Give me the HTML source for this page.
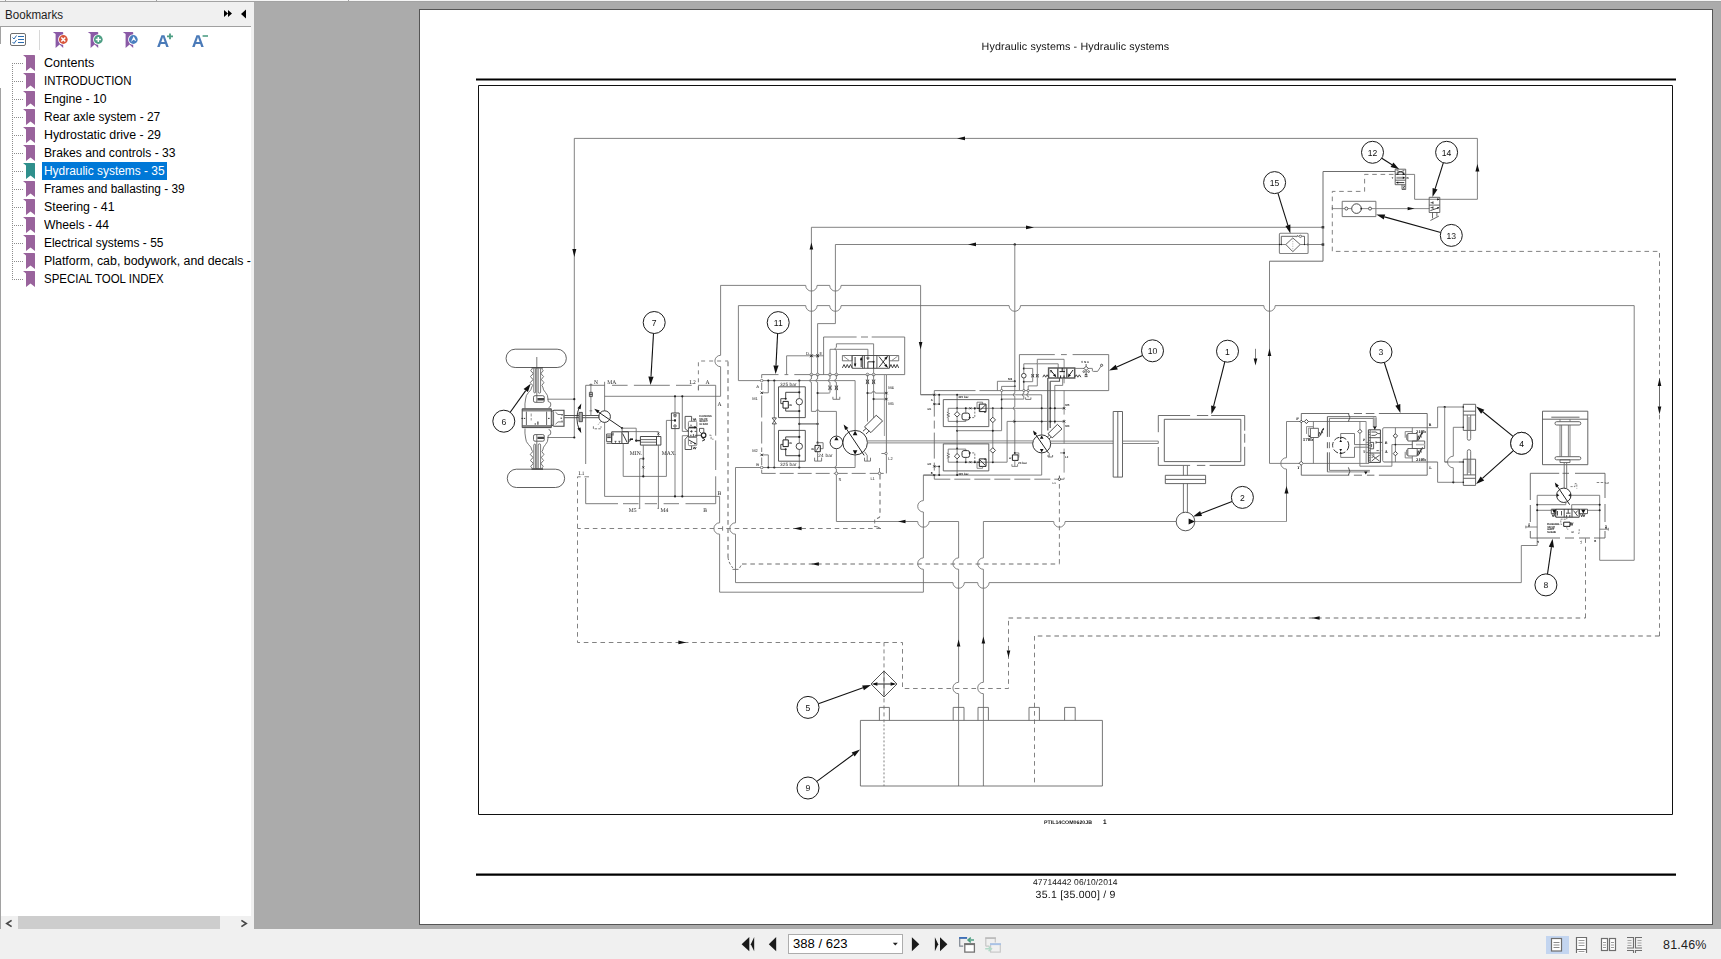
<!DOCTYPE html>
<html><head><meta charset="utf-8"><title>PDF Viewer</title>
<style>
html,body{margin:0;padding:0;}
body{width:1721px;height:959px;overflow:hidden;background:#f0f0f0;position:relative;
 font-family:"Liberation Sans",sans-serif;}
.abs{position:absolute;}
#topline{left:0;top:0;width:1721px;height:1px;background:#f6f6f6;}
#topline2{left:0;top:1px;width:1721px;height:1px;background:#a3a3a3;}
#gray{left:254px;top:2px;width:1467px;height:927px;background:#ababab;}
#lp{left:0;top:27px;width:251px;height:902px;background:#fff;}
#lphead{left:0;top:2px;width:254px;height:24px;background:#f0f0f0;}
#lpline{left:0;top:26px;width:251px;height:1px;background:#a0a0a0;}
#lpstrip{left:251px;top:2px;width:3px;height:927px;background:#f0f0f0;}
#bm{left:5px;top:8px;font-size:12px;color:#1e1e1e;transform:scaleX(0.966);transform-origin:0 0;}
#page{left:419px;top:9px;width:1292px;height:914px;background:#fff;border:1px solid #555;}
#bottom{left:0;top:929px;width:1721px;height:30px;background:#f0f0f0;}
.row{position:absolute;left:44px;height:18px;line-height:18px;font-size:12px;color:#000;white-space:nowrap;transform-origin:0 0;}
#rows{left:0;top:0;width:251px;height:916px;overflow:hidden;}
#sel{left:42px;top:162px;width:125px;height:18px;background:#0078d7;}
#hsb{left:0;top:916px;width:251px;height:13px;background:#f0f0f0;}
#hthumb{left:18px;top:916px;width:202px;height:13px;background:#cdcdcd;}
#pgbox{left:788px;top:934px;width:113px;height:18px;background:#fff;border:1px solid #adadad;}
#pgtxt{left:793px;top:937px;font-size:12.5px;color:#000;transform:scaleX(1.045);transform-origin:0 0;}
#zoomtxt{left:1663px;top:938px;font-size:12.5px;color:#1e1e1e;letter-spacing:0.2px;}
#vsel{left:1546px;top:936px;width:23px;height:18px;background:#c3d5f0;}
svg{position:absolute;left:0;top:0;will-change:transform;}
</style></head>
<body>
<div class="abs" id="topline"></div><div class="abs" id="topline2"></div>
<div class="abs" id="gray"></div>
<div class="abs" id="lphead"></div><div class="abs" id="lpline"></div>
<div class="abs" id="lp"></div><div class="abs" id="lpstrip"></div>
<div class="abs" id="bm">Bookmarks</div>
<div class="abs" id="sel"></div>
<div class="abs" id="rows">
<div class="row" style="top:54px;transform:scaleX(1.047);">Contents</div>
<div class="row" style="top:72px;transform:scaleX(0.951);">INTRODUCTION</div>
<div class="row" style="top:90px;transform:scaleX(1.018);">Engine - 10</div>
<div class="row" style="top:108px;transform:scaleX(0.996);">Rear axle system - 27</div>
<div class="row" style="top:126px;transform:scaleX(1.031);">Hydrostatic drive - 29</div>
<div class="row" style="top:144px;transform:scaleX(1.012);">Brakes and controls - 33</div>
<div class="row" style="top:162px;transform:scaleX(0.994);color:#fff;">Hydraulic systems - 35</div>
<div class="row" style="top:180px;transform:scaleX(0.99);">Frames and ballasting - 39</div>
<div class="row" style="top:198px;transform:scaleX(1.027);">Steering - 41</div>
<div class="row" style="top:216px;transform:scaleX(1.015);">Wheels - 44</div>
<div class="row" style="top:234px;transform:scaleX(0.995);">Electrical systems - 55</div>
<div class="row" style="top:252px;transform:scaleX(1.031);">Platform, cab, bodywork, and decals -</div>
<div class="row" style="top:270px;transform:scaleX(0.955);">SPECIAL TOOL INDEX</div>
</div>
<div class="abs" id="hsb"></div><div class="abs" id="hthumb"></div>
<div class="abs" id="page"></div>
<div class="abs" id="bottom"></div>
<div class="abs" id="pgbox"></div><div class="abs" id="pgtxt">388 / 623</div>
<div class="abs" id="vsel"></div>
<div class="abs" id="zoomtxt">81.46%</div>
<svg width="1721" height="959" viewBox="0 0 1721 959" text-rendering="geometricPrecision">
<rect x="0" y="26" width="1" height="18" fill="#a2a2a2"/>
<rect x="0" y="88" width="1" height="841" fill="#a2a2a2"/>
<rect x="5" y="0" width="1" height="1" fill="#a0a0a0"/>
<rect x="156" y="0" width="1" height="1" fill="#a0a0a0"/>
<rect x="348" y="0" width="1" height="1" fill="#a0a0a0"/>
<path d="M224 10 L228 13.5 L224 17 Z M228 10 L232 13.5 L228 17 Z" fill="#000"/>
<path d="M246 9.5 L246 18.5 L241 14 Z" fill="#000"/>
<rect x="10.5" y="33.5" width="15" height="12" rx="1.5" fill="#fff" stroke="#6e6e6e" stroke-width="1"/>
<path d="M12.5 37.5 L14 39 L16.5 35.5 M12.5 42 L14 43.5 L16.5 40" fill="none" stroke="#2b6cb0" stroke-width="1"/>
<path d="M18 36.5 H24 M18 39.5 H24 M18 42.5 H24" stroke="#2b6cb0" stroke-width="1"/>
<rect x="39" y="30" width="1" height="20" fill="#d8d8d8"/>
<path d="M52.8 32 H62.6 L63.2 32.6 V48 L59.6 44.6 L55.6 48 V34 Z" fill="#8a5aa6"/>
<circle cx="63.3" cy="39.5" r="5.2" fill="#fff"/>
<circle cx="63.3" cy="39.5" r="4.4" fill="#d9553a"/>
<path d="M61.3 37.5 L65.3 41.5 M65.3 37.5 L61.3 41.5" stroke="#fff" stroke-width="1.5"/>
<path d="M87.8 32 H97.6 L98.2 32.6 V48 L94.6 44.6 L90.6 48 V34 Z" fill="#8a5aa6"/>
<circle cx="98.3" cy="39.5" r="5.2" fill="#fff"/>
<circle cx="98.3" cy="39.5" r="4.4" fill="#4e9e84"/>
<path d="M95.7 39.5 H100.89999999999999 M98.3 36.9 V42.1" stroke="#fff" stroke-width="1.5"/>
<path d="M122.8 32 H132.6 L133.2 32.6 V48 L129.6 44.6 L125.6 48 V34 Z" fill="#8a5aa6"/>
<circle cx="133.3" cy="39.5" r="5.2" fill="#fff"/>
<circle cx="133.3" cy="39.5" r="4.4" fill="#4a7fc0"/>
<path d="M130.9 42.1 L133.70000000000002 36.3 L136.3 41.3 L133.5 39.7 Z" fill="#fff"/>
<text x="156.8" y="46.9" font-family="Liberation Sans" font-weight="bold" font-size="17.2" fill="#4a7ab8">A</text>
<path d="M167 36.4 H173 M170 33.6 V39.2" stroke="#4e9e84" stroke-width="1.8"/>
<text x="191.8" y="46.9" font-family="Liberation Sans" font-weight="bold" font-size="17.2" fill="#4a7ab8">A</text>
<path d="M202.600 36 H208" stroke="#4e9e84" stroke-width="1.6"/>
<path d="M12.5 63 V279" stroke="#8c8c8c" stroke-width="1" stroke-dasharray="1 1"/>
<path d="M12 63.5 H23" stroke="#8c8c8c" stroke-width="1" stroke-dasharray="1 1"/>
<path d="M23 55 H34.4 L35 55.6 V71 L30.5 67.4 L26 71 V57.4 Z" fill="#99639c"/>
<path d="M12 81.5 H23" stroke="#8c8c8c" stroke-width="1" stroke-dasharray="1 1"/>
<path d="M23 73 H34.4 L35 73.6 V89 L30.5 85.4 L26 89 V75.4 Z" fill="#99639c"/>
<path d="M12 99.5 H23" stroke="#8c8c8c" stroke-width="1" stroke-dasharray="1 1"/>
<path d="M23 91 H34.4 L35 91.6 V107 L30.5 103.4 L26 107 V93.4 Z" fill="#99639c"/>
<path d="M12 117.5 H23" stroke="#8c8c8c" stroke-width="1" stroke-dasharray="1 1"/>
<path d="M23 109 H34.4 L35 109.6 V125 L30.5 121.4 L26 125 V111.4 Z" fill="#99639c"/>
<path d="M12 135.5 H23" stroke="#8c8c8c" stroke-width="1" stroke-dasharray="1 1"/>
<path d="M23 127 H34.4 L35 127.6 V143 L30.5 139.4 L26 143 V129.4 Z" fill="#99639c"/>
<path d="M12 153.5 H23" stroke="#8c8c8c" stroke-width="1" stroke-dasharray="1 1"/>
<path d="M23 145 H34.4 L35 145.6 V161 L30.5 157.4 L26 161 V147.4 Z" fill="#99639c"/>
<path d="M12 171.5 H23" stroke="#8c8c8c" stroke-width="1" stroke-dasharray="1 1"/>
<path d="M23 163 H34.4 L35 163.6 V179 L30.5 175.4 L26 179 V165.4 Z" fill="#2f8f8c"/>
<path d="M12 189.5 H23" stroke="#8c8c8c" stroke-width="1" stroke-dasharray="1 1"/>
<path d="M23 181 H34.4 L35 181.6 V197 L30.5 193.4 L26 197 V183.4 Z" fill="#99639c"/>
<path d="M12 207.5 H23" stroke="#8c8c8c" stroke-width="1" stroke-dasharray="1 1"/>
<path d="M23 199 H34.4 L35 199.6 V215 L30.5 211.4 L26 215 V201.4 Z" fill="#99639c"/>
<path d="M12 225.5 H23" stroke="#8c8c8c" stroke-width="1" stroke-dasharray="1 1"/>
<path d="M23 217 H34.4 L35 217.6 V233 L30.5 229.4 L26 233 V219.4 Z" fill="#99639c"/>
<path d="M12 243.5 H23" stroke="#8c8c8c" stroke-width="1" stroke-dasharray="1 1"/>
<path d="M23 235 H34.4 L35 235.6 V251 L30.5 247.4 L26 251 V237.4 Z" fill="#99639c"/>
<path d="M12 261.5 H23" stroke="#8c8c8c" stroke-width="1" stroke-dasharray="1 1"/>
<path d="M23 253 H34.4 L35 253.6 V269 L30.5 265.4 L26 269 V255.4 Z" fill="#99639c"/>
<path d="M12 279.5 H23" stroke="#8c8c8c" stroke-width="1" stroke-dasharray="1 1"/>
<path d="M23 271 H34.4 L35 271.6 V287 L30.5 283.4 L26 287 V273.4 Z" fill="#99639c"/>
<path d="M11.6 920.4 L6.8 923.5 L11.6 926.6" fill="none" stroke="#484848" stroke-width="1.7"/>
<path d="M241.4 920.4 L246.2 923.5 L241.4 926.6" fill="none" stroke="#484848" stroke-width="1.7"/>
<path d="M749.3 937 V951.3 L741.6 944.15 Z" fill="#1a1a1a"/>
<path d="M754.2 937 V951.3 L750.8 944.15 Z" fill="#1a1a1a"/>
<path d="M776.2 937 V951.3 L768.8 944.15 Z" fill="#1a1a1a"/>
<path d="M892.8 942.8 L897.8 942.8 L895.300 945.6 Z" fill="#222"/>
<path d="M911.9 937.3 V951.2 L919.3 944.25 Z" fill="#1a1a1a"/>
<path d="M934.9 937.3 V951.2 L938.2 944.25 Z" fill="#1a1a1a"/>
<path d="M940 937.3 V951.2 L947.4 944.25 Z" fill="#1a1a1a"/>
<path d="M959.7 946.7 V938 H967 M959.7 946.2 H963.2" fill="none" stroke="#808892" stroke-width="1.2"/><rect x="959.1" y="937" width="8" height="1.8" fill="#3f70b8"/>
<rect x="964.8" y="944" width="9.600" height="8.100" fill="#fff" stroke="#747474" stroke-width="1.3"/><rect x="964.2" y="943.2" width="10.8" height="1.900" fill="#747474"/>
<path d="M974 940 H968.2 M970.8 937.6 L968 940 L970.8 942.4" fill="none" stroke="#4f9f82" stroke-width="1.5"/>
<path d="M985.8 946.2 V938.2 H995.3 V942.6 M985.8 946.2 H989.400" fill="none" stroke="#c6c6c6" stroke-width="1.2"/><rect x="985.2" y="937.3" width="10.7" height="1.700" fill="#bdbdbd"/>
<rect x="990.6" y="944" width="9.700" height="8.100" fill="#f0f0f0" stroke="#c8c8c8" stroke-width="1.2"/><rect x="990" y="943.2" width="10.9" height="1.900" fill="#a9c2e6"/>
<path d="M985.2 948.8 H991.200 M988.6 946.5 L991.400 948.8 L988.6 951.100" fill="none" stroke="#b3d9c8" stroke-width="1.5"/>
<rect x="1551.5" y="938.5" width="10" height="12.5" fill="#fff" stroke="#6e6e6e" stroke-width="1.2"/>
<path d="M1553.5 942.5 H1559.5 M1553.5 945 H1559.5 M1553.5 947.5 H1559.5" stroke="#8a8a8a" stroke-width="1"/>
<path d="M1576.5 949 V937.5 H1586.500 V949" fill="#fff" stroke="#6e6e6e" stroke-width="1.2"/><path d="M1576.5 953 V949.5 H1586.5 V953" fill="#fff" stroke="#6e6e6e" stroke-width="1.2"/>
<path d="M1578.5 940.5 H1584.5 M1578.5 943 H1584.5 M1578.5 945.5 H1584.5 M1578.5 951.5 H1584.5" stroke="#9a9a9a" stroke-width="1"/>
<rect x="1601.500" y="938.5" width="6" height="12" fill="#fff" stroke="#6e6e6e" stroke-width="1.2"/><rect x="1609.500" y="938.5" width="6" height="12" fill="#fff" stroke="#6e6e6e" stroke-width="1.2"/>
<path d="M1603 942.5 H1606 M1603 945 H1606 M1603 947.5 H1606 M1611 942.5 H1614 M1611 945 H1614 M1611 947.5 H1614" stroke="#9a9a9a" stroke-width="1"/>
<path d="M1627 937.5 H1633.5 V948 H1627 M1642 937.5 H1635.5 V948 H1642 M1627 950.5 H1633.5 V953 M1642 950.5 H1635.5 V953" fill="none" stroke="#6e6e6e" stroke-width="1.1"/>
<path d="M1627.5 940.5 H1631.5 M1627.5 943 H1631.5 M1627.5 945.5 H1631.5 M1637.5 940.5 H1641.5 M1637.5 943 H1641.5 M1637.5 945.5 H1641.5" stroke="#a5a5a5" stroke-width="1"/>
<text x="981.6" y="49.6" font-family="Liberation Sans" font-size="10.7" text-anchor="start" fill="#111" font-weight="normal" textLength="187.6" lengthAdjust="spacing">Hydraulic systems - Hydraulic systems</text>
<path d="M476 79.5 H1676" fill="none" stroke="#000" stroke-width="2"/>
<path d="M476 874.6 H1676" fill="none" stroke="#000" stroke-width="2.4"/>
<path d="M478.5 85.5 h1194 v729 h-1194 Z" fill="none" stroke="#111" stroke-width="1"/>
<text x="1033" y="884.9" font-family="Liberation Sans" font-size="8.45" text-anchor="start" fill="#111" font-weight="normal" textLength="84.5" lengthAdjust="spacing">47714442 06/10/2014</text>
<text x="1035.6" y="897.8" font-family="Liberation Sans" font-size="10.5" text-anchor="start" fill="#111" font-weight="normal" textLength="79.8" lengthAdjust="spacing">35.1 [35.000] / 9</text>
<text x="1044" y="823.8" font-family="Liberation Sans" font-size="5.1" text-anchor="start" fill="#111" font-weight="bold" textLength="48" lengthAdjust="spacingAndGlyphs">PTIL14COM0620JB</text>
<text x="1103" y="823.8" font-family="Liberation Sans" font-size="6.4" text-anchor="start" fill="#111" font-weight="bold">1</text>
<path d="M1439.8 199.3 H1477.4 V138.4 H574.3 V437.5" fill="none" stroke="#6c6c6c" stroke-width="0.85"/>
<path d="M574.3 257 L572.3 249 L576.3 249 Z" fill="#111"/>
<path d="M957 138.4 L965 136.6 L965 140.20000000000002 Z" fill="#111"/>
<path d="M1477.4 163.9 L1475.4 171.4 L1479.4 171.4 Z" fill="#111"/>
<path d="M547.3 399.2 H574.3 M547.3 437.5 H574.3" fill="none" stroke="#6c6c6c" stroke-width="0.85"/>
<circle cx="574.3" cy="399.2" r="1.1" fill="#222"/>
<circle cx="574.3" cy="437.5" r="1.1" fill="#222"/>
<path d="M811.4 374 V227.3 H1323" fill="none" stroke="#6c6c6c" stroke-width="0.85"/>
<path d="M811.4 242.4 L809.6 249.4 L813.1999999999999 249.4 Z" fill="#111"/>
<path d="M1034 227.4 L1026 225.6 L1026 229.20000000000002 Z" fill="#111"/>
<path d="M817.6 374 V323.6 H835.4 V244.5 H1279.4" fill="none" stroke="#6c6c6c" stroke-width="0.85"/>
<path d="M968 244.4 L976 242.6 L976 246.20000000000002 Z" fill="#111"/>
<circle cx="1014.8" cy="244.4" r="1.2" fill="#222"/>
<path d="M1308 244.5 H1323" fill="none" stroke="#6c6c6c" stroke-width="0.85"/>
<rect x="1321.7" y="226" width="2.5" height="2.5" fill="#111"/><rect x="1321.7" y="243.3" width="2.5" height="2.5" fill="#111"/>
<circle cx="1307.8" cy="244.5" r="0.9" fill="#222"/>
<path d="M1014.8 244.4 V381.3" fill="none" stroke="#6c6c6c" stroke-width="0.85"/>
<path d="M1395 171.5 H1323 V261.2 H1269.5" fill="none" stroke="#6c6c6c" stroke-width="1"/>
<path d="M1269.5 261.2 V463.4" fill="none" stroke="#6c6c6c" stroke-width="0.85"/>
<path d="M1269.5 348.5 L1267.7 356.0 L1271.3 356.0 Z" fill="#111"/>
<path d="M1269.5 463.4 H1301.2" fill="none" stroke="#6c6c6c" stroke-width="0.85"/>
<path d="M1255.5 348.8 V360" fill="none" stroke="#6c6c6c" stroke-width="0.85"/>
<path d="M1255.5 365.5 L1253.7 358.5 L1257.3 358.5 Z" fill="#111"/>
<path d="M720.5 285.4 H805.6999999999999 A5.7 5.7 0 0 0 817.1 285.4 H829.6999999999999 A5.7 5.7 0 0 0 841.1 285.4 H920.6" fill="none" stroke="#6c6c6c" stroke-width="0.85"/>
<path d="M920.6 285.4 V394.6 H934.3" fill="none" stroke="#6c6c6c" stroke-width="0.85"/>
<path d="M920.6 349.6 L918.8000000000001 342.1 L922.4 342.1 Z" fill="#111"/>
<path d="M720.6 285.4 V355.3 A5.7 5.7 0 0 0 720.6 366.7 V396.3" fill="none" stroke="#6c6c6c" stroke-width="0.85"/>
<path d="M720.6 396.3 H604.6" fill="none" stroke="#6c6c6c" stroke-width="0.85"/>
<path d="M738.4 305.6 H805.6999999999999 A5.7 5.7 0 0 0 817.1 305.6 H829.6999999999999 A5.7 5.7 0 0 0 841.1 305.6 H1009.0999999999999 A5.7 5.7 0 0 0 1020.5 305.6 H1263.8 A5.7 5.7 0 0 0 1275.2 305.6 H1634.2" fill="none" stroke="#6c6c6c" stroke-width="0.85"/>
<path d="M738.4 305.6 V380.6 H760.4" fill="none" stroke="#6c6c6c" stroke-width="0.85"/>
<path d="M1634.2 305.6 V560.3 H1599.7 V538" fill="none" stroke="#6c6c6c" stroke-width="0.85"/>
<path d="M604.6 496.4 H719.6" fill="none" stroke="#6c6c6c" stroke-width="0.85"/>
<path d="M719.6 496.4 V522.8 A5.7 5.7 0 0 0 719.6 534.2 V592.2" fill="none" stroke="#6c6c6c" stroke-width="0.85"/>
<path d="M719.6 592.2 H923.4" fill="none" stroke="#6c6c6c" stroke-width="0.85"/>
<path d="M923.4 592.2 V569.3000000000001 A5.7 5.7 0 0 1 923.4 557.9 V512.0 A5.7 5.7 0 0 1 923.4 500.6 V475.1" fill="none" stroke="#6c6c6c" stroke-width="0.85"/>
<path d="M923.4 475.1 H934.3" fill="none" stroke="#6c6c6c" stroke-width="0.85"/>
<path d="M761.7 467.5 H735.5" fill="none" stroke="#6c6c6c" stroke-width="0.85"/>
<path d="M735.5 467.5 V522.8 A5.7 5.7 0 0 0 735.5 534.2 V582.6" fill="none" stroke="#6c6c6c" stroke-width="0.85"/>
<path d="M735.5 582.6 H952.9 A5.7 5.7 0 0 0 964.3000000000001 582.6 H977.6999999999999 A5.7 5.7 0 0 0 989.1 582.6 H1521.3" fill="none" stroke="#6c6c6c" stroke-width="0.85"/>
<path d="M1521.3 582.6 V545.5 H1537.2 V538" fill="none" stroke="#6c6c6c" stroke-width="0.85"/>
<path d="M836.4 474.8 V521.5" fill="none" stroke="#6c6c6c" stroke-width="0.85"/>
<path d="M836.4 521.5 H917.6999999999999 A5.7 5.7 0 0 0 929.1 521.5 H958.6" fill="none" stroke="#6c6c6c" stroke-width="0.85"/>
<path d="M958.6 521.5 V557.9 A5.7 5.7 0 0 0 958.6 569.3000000000001 V682.3 A5.7 5.7 0 0 0 958.6 693.7 V786" fill="none" stroke="#6c6c6c" stroke-width="0.85"/>
<path d="M898 521.5 L905.5 519.7 L905.5 523.3 Z" fill="#111"/>
<path d="M874.7 519.5 V523.5" fill="none" stroke="#6c6c6c" stroke-width="0.85"/>
<path d="M958.6 639.6 L956.8000000000001 646.6 L960.4 646.6 Z" fill="#111"/>
<path d="M1176.2 521.5 H1065.1000000000001 A5.7 5.7 0 0 1 1053.7 521.5 H983.4" fill="none" stroke="#6c6c6c" stroke-width="0.85"/>
<path d="M983.4 521.5 V557.9 A5.7 5.7 0 0 0 983.4 569.3000000000001 V682.3 A5.7 5.7 0 0 0 983.4 693.7 V786" fill="none" stroke="#6c6c6c" stroke-width="0.85"/>
<path d="M983.4 636.5 L981.6 643.5 L985.1999999999999 643.5 Z" fill="#111"/>
<path d="M1194.8 521.5 H1286.5" fill="none" stroke="#8a8a8a" stroke-width="0.85"/>
<path d="M1286.5 521.5 V469.09999999999997 A5.7 5.7 0 0 1 1286.5 457.7 V421.5" fill="none" stroke="#6c6c6c" stroke-width="0.85"/>
<path d="M1286.5 421.5 H1301.2" fill="none" stroke="#6c6c6c" stroke-width="0.85"/>
<path d="M1286.5 486 L1284.5 493.5 L1288.5 493.5 Z" fill="#111"/>
<path d="M589 476.8 H577.5 V642.5 H902.5 V688.5 H1008.5 V618" fill="none" stroke="#6c6c6c" stroke-width="0.85" stroke-dasharray="4.6 3.74"/>
<path d="M1008.5 618 H1585.5" fill="none" stroke="#6c6c6c" stroke-width="1.05" stroke-dasharray="4.6 3.74"/>
<path d="M1585.5 618 V535" fill="none" stroke="#6c6c6c" stroke-width="0.85" stroke-dasharray="4.6 3.74"/>
<path d="M686.4 642.4 L678.4 640.6 L678.4 644.1999999999999 Z" fill="#111"/>
<path d="M1008.5 657.5 L1006.7 650.5 L1010.3 650.5 Z" fill="#111"/>
<path d="M1311.6 618 L1319.6 616.2 L1319.6 619.8 Z" fill="#111"/>
<path d="M884 642.4 V720" fill="none" stroke="#6c6c6c" stroke-width="0.85" stroke-dasharray="4 3"/>
<path d="M884 720.4 V786" fill="none" stroke="#6c6c6c" stroke-width="0.85" stroke-dasharray="2 2"/>
<path d="M880 474.8 V516 Q880 517.5 877 518.5" fill="none" stroke="#6c6c6c" stroke-width="1.05" stroke-dasharray="4.6 3.74"/>
<path d="M881 528.5 H577.5" fill="none" stroke="#6c6c6c" stroke-width="0.85" stroke-dasharray="4.6 3.74"/>
<path d="M874 526.3 q4 0.2 6.5 2.2" fill="none" stroke="#6c6c6c" stroke-width="0.9"/>
<path d="M722.6 526.3 V530.7" fill="none" stroke="#6c6c6c" stroke-width="0.9"/>
<path d="M793.6 528.5 L801.6 526.7 L801.6 530.3 Z" fill="#111"/>
<path d="M698.4 390.3 V361 H728.1" fill="none" stroke="#6c6c6c" stroke-width="0.85" stroke-dasharray="4 4"/>
<path d="M728 361.6 V557" fill="none" stroke="#6c6c6c" stroke-width="1.05" stroke-dasharray="4.6 3.74"/>
<path d="M728 557 Q728.5 563 733 568" fill="none" stroke="#6c6c6c" stroke-width="1" stroke-dasharray="3 2"/>
<path d="M732.5 569.4 H738.5" fill="none" stroke="#6c6c6c" stroke-width="0.9"/>
<path d="M739.5 568 L742 564" fill="none" stroke="#6c6c6c" stroke-width="0.85" stroke-dasharray="3 2"/>
<path d="M742 564 H1059.4" fill="none" stroke="#6c6c6c" stroke-width="1.05" stroke-dasharray="4.6 3.74"/>
<path d="M1059.4 563.7 V480.6" fill="none" stroke="#6c6c6c" stroke-width="0.85" stroke-dasharray="4.6 3.74"/>
<path d="M810.9 564 L818.9 562.2 L818.9 565.8 Z" fill="#111"/>
<path d="M1393.5 174.4 H1364.6 V191.4 H1332.3 V251.4 H1659.5 V386" fill="none" stroke="#6c6c6c" stroke-width="0.85" stroke-dasharray="4.6 3.74"/>
<path d="M1659.5 386 V406.4" fill="none" stroke="#6c6c6c" stroke-width="1"/>
<path d="M1659.5 406.4 V636" fill="none" stroke="#6c6c6c" stroke-width="0.85" stroke-dasharray="4.6 3.74"/>
<path d="M1659.5 636 H1034.5" fill="none" stroke="#6c6c6c" stroke-width="1.05" stroke-dasharray="4.6 3.74"/>
<path d="M1034.5 636 V786" fill="none" stroke="#6c6c6c" stroke-width="0.85" stroke-dasharray="4.6 3.74"/>
<path d="M1659.5 378 L1657.7 386 L1661.3 386 Z" fill="#111"/>
<path d="M1659.5 414.4 L1657.7 406.4 L1661.3 406.4 Z" fill="#111"/>
<path d="M515.2 349.2 H557.2 A9.15 9.15 0 0 1 557.2 367.5 H515.2 A9.15 9.15 0 0 1 515.2 349.2 Z" fill="none" stroke="#444" stroke-width="0.85"/>
<path d="M516.4 469.2 H555.5 A9.15 9.15 0 0 1 555.5 487.5 H516.4 A9.15 9.15 0 0 1 516.4 469.2 Z" fill="none" stroke="#444" stroke-width="0.85"/>
<path d="M536.8 357 V396 M536.8 441 V469" fill="none" stroke="#555" stroke-width="0.8"/>
<path d="M533.8 368.5 V392.0 A0.9 0.9 0 0 0 535.6 392.0 V368.5" fill="none" stroke="#555" stroke-width="0.8"/>
<path d="M538.2 368.5 V392.0 A1.2 1.2 0 0 0 540.6 392.0 V368.5" fill="none" stroke="#555" stroke-width="0.8"/>
<path d="M533.8 468.5 V445.0 A0.9 0.9 0 0 1 535.6 445.0 V468.5" fill="none" stroke="#555" stroke-width="0.8"/>
<path d="M538.2 468.5 V445.0 A1.2 1.2 0 0 1 540.6 445.0 V468.5" fill="none" stroke="#555" stroke-width="0.8"/>
<path d="M531.5 367.9 H543 M531.5 469 H543" fill="none" stroke="#444" stroke-width="1.3"/>
<path d="M532.4 369 q-3.2 1.5 -0.3 3 q1.8 1.5 0.1 3 q-3.2 1.5 -0.3 3 q1.8 1.5 0.1 3 q-3.2 1.5 -0.3 3 q1.8 1.5 0.1 3" fill="none" stroke="#555" stroke-width="0.8"/>
<path d="M541.6 369 q3.2 1.5 0.4 3 q-1.8 1.5 0 3 q3.2 1.5 0.4 3 q-1.8 1.5 0 3 q3.2 1.5 0.4 3 q-1.8 1.5 0 3" fill="none" stroke="#555" stroke-width="0.8"/>
<path d="M531.8 387 Q531.5 390 528.5 392.5 Q525.8 395 525.6 399 Q524.6 404 525 408.5" fill="none" stroke="#555" stroke-width="0.8"/>
<path d="M542.8 387 Q543 390 545.5 392.5 Q548 395 548 399 L548.2 401.5 Q551.5 402 550.8 405 Q550.5 407.5 548.6 407.5" fill="none" stroke="#555" stroke-width="0.8"/>
<path d="M532.4 468 q-3.2 -1.5 -0.3 -3 q1.8 -1.5 0.1 -3 q-3.2 -1.5 -0.3 -3 q1.8 -1.5 0.1 -3 q-3.2 -1.5 -0.3 -3 q1.8 -1.5 0.1 -3" fill="none" stroke="#555" stroke-width="0.8"/>
<path d="M541.6 468 q3.2 -1.5 0.4 -3 q-1.8 -1.5 0 -3 q3.2 -1.5 0.4 -3 q-1.8 -1.5 0 -3 q3.2 -1.5 0.4 -3 q-1.8 -1.5 0 -3" fill="none" stroke="#555" stroke-width="0.8"/>
<path d="M531.8 450 Q531.5 447 528.5 444.5 Q525.8 442 525.6 438 Q524.6 433 525 428.5" fill="none" stroke="#555" stroke-width="0.8"/>
<path d="M542.8 450 Q543 447 545.5 444.5 Q548 442 548 438 L548.2 435.5 Q551.5 435 550.8 432 Q550.5 429.5 548.6 429.5" fill="none" stroke="#555" stroke-width="0.8"/>
<rect x="533.5" y="395.7" width="10.8" height="6.6" rx="1.5" fill="#fff" stroke="#555" stroke-width="0.9"/>
<rect x="533.5" y="434.6" width="10.8" height="6.6" rx="1.5" fill="#fff" stroke="#555" stroke-width="0.9"/>
<path d="M537.400 399.2 H544 M537.4 437.9 H544" fill="none" stroke="#444" stroke-width="2.4"/>
<path d="M536.800 395.7 V402.3 M536.800 434.6 V441.2" fill="none" stroke="#555" stroke-width="0.8"/>
<path d="M522.2 410.2 H551.3 M522.2 426.3 H551.3" fill="none" stroke="#8a8a8a" stroke-width="2.8"/>
<path d="M522.2 408.8 h29.1 v18.8 h-29.1 Z" fill="none" stroke="#4a4a4a" stroke-width="1"/>
<path d="M526.4 411.6 V425 M546.6 411.6 V425" fill="none" stroke="#555" stroke-width="0.9"/>
<path d="M531.2 413.5 V420.5" fill="none" stroke="#666" stroke-width="0.7" stroke-dasharray="3 1.5"/>
<path d="M534.600 424 h1.4 M537.9 421.6 v3.2" fill="none" stroke="#333" stroke-width="1.1"/>
<path d="M521.4 418.4 h1.6 M523.800 418.4 h1.4 M548 418.4 h1.6" fill="none" stroke="#333" stroke-width="1"/>
<path d="M551.3 411.6 L554.1 410.2 H564 V426.2 H554.1 L551.3 424.8" fill="none" stroke="#444" stroke-width="1.1"/>
<path d="M553.300 411.3 V425.2" fill="none" stroke="#777" stroke-width="1.6"/>
<path d="M555.5 412.2 L558 414.5 H563 M555.5 424.2 L558 421.9 H563 M562 414.5 V416 M562 420.400 V421.9" fill="none" stroke="#555" stroke-width="0.8"/>
<path d="M560.5 418.2 h1.6" fill="none" stroke="#333" stroke-width="1"/>
<path d="M564.3 415.5 H598.9 M564.3 417.7 H598.9" fill="none" stroke="#444" stroke-width="0.9"/>
<path d="M579 412.4 h3.4 v9.3 h-3.4 Z" fill="#aaa" stroke="#444" stroke-width="0.9"/>
<path d="M579.6 406.5 Q574.2 418.5 579.6 430.3" fill="none" stroke="#222" stroke-width="0.9"/>
<path d="M581.3 403.6 L577.4 408.2 L580.6 409.2 Z" fill="#111"/>
<path d="M581.3 433.2 L577.4 428.6 L580.6 427.6 Z" fill="#111"/>
<path d="M585.7 385.3 H605 M612 385.3 H627.6 M633.9 385.3 H669.8 M676 385.3 H691.7 M698 385.3 H715.7" fill="none" stroke="#666" stroke-width="0.85"/>
<path d="M585.7 503.7 H618 M623 503.7 H638.6 M644.8 503.7 H657 M663.6 503.7 H679 M685.5 503.7 H715.7" fill="none" stroke="#666" stroke-width="0.85"/>
<path d="M585.7 385.3 V464 M585.7 478 V503.7" fill="none" stroke="#666" stroke-width="0.85"/>
<path d="M715.7 385.3 V435.7 M715.7 440.4 V470 M715.7 476.3 V503.7" fill="none" stroke="#666" stroke-width="0.85"/>
<text x="594" y="383.6" font-family="Liberation Serif" font-size="5.6" text-anchor="start" fill="#222" font-weight="normal">N</text>
<text x="607.3" y="383.6" font-family="Liberation Serif" font-size="5.6" text-anchor="start" fill="#222" font-weight="normal">MA</text>
<text x="689.5" y="383.6" font-family="Liberation Serif" font-size="5.6" text-anchor="start" fill="#222" font-weight="normal">L2</text>
<text x="705.4" y="383.6" font-family="Liberation Serif" font-size="5.6" text-anchor="start" fill="#222" font-weight="normal">A</text>
<text x="717.6" y="405.6" font-family="Liberation Serif" font-size="5.6" text-anchor="start" fill="#222" font-weight="normal">A</text>
<text x="717.6" y="494.6" font-family="Liberation Serif" font-size="5.6" text-anchor="start" fill="#222" font-weight="normal">B</text>
<text x="703.3" y="512" font-family="Liberation Serif" font-size="5.6" text-anchor="start" fill="#222" font-weight="normal">B</text>
<text x="628.8" y="512" font-family="Liberation Serif" font-size="5.6" text-anchor="start" fill="#222" font-weight="normal">M5</text>
<text x="660.6" y="512" font-family="Liberation Serif" font-size="5.6" text-anchor="start" fill="#222" font-weight="normal">M4</text>
<text x="578.6" y="475.3" font-family="Liberation Serif" font-size="5.2" text-anchor="start" fill="#222" font-weight="normal">L1</text>
<text x="629.8" y="454.5" font-family="Liberation Serif" font-size="5.6" text-anchor="start" fill="#222" font-weight="normal">MIN.</text>
<text x="661.8" y="454.5" font-family="Liberation Serif" font-size="5.6" text-anchor="start" fill="#222" font-weight="normal">MAX.</text>
<path d="M698.4 386 V390.3" fill="none" stroke="#6c6c6c" stroke-width="0.85"/>
<path d="M590.9 383.5 V415.5" fill="none" stroke="#6c6c6c" stroke-width="0.85"/>
<path d="M589.4 384.6 h3" fill="none" stroke="#6c6c6c" stroke-width="0.9"/>
<path d="M589.4 392.3 h3 v4.3 h-3 Z" fill="none" stroke="#333" stroke-width="0.8"/>
<path d="M589.4 394.4 h3" fill="none" stroke="#333" stroke-width="0.8"/>
<path d="M589.6 410.8 h2.6" fill="none" stroke="#777" stroke-width="1.1"/>
<path d="M604.6 381.8 V410.8 M604.6 422.4 V496.4" fill="none" stroke="#6c6c6c" stroke-width="0.85"/>
<path d="M598.9 415.5 V417.7" fill="none" stroke="#6c6c6c" stroke-width="0.8"/>
<path d="M675 396.3 V413 M675 428.6 V496.4 M682.3 396.3 V431.4 M682.3 435.7 V496.4" fill="none" stroke="#6c6c6c" stroke-width="0.85"/>
<circle cx="675" cy="396.3" r="1.1" fill="#222"/>
<circle cx="675" cy="496.4" r="1.1" fill="#222"/>
<circle cx="682.3" cy="396.3" r="1.1" fill="#222"/>
<circle cx="682.3" cy="496.4" r="1.1" fill="#222"/>
<circle cx="604.6" cy="416.6" r="5.8" fill="none" stroke="#333" stroke-width="1"/>
<path d="M597.2 411.2 L622.1 428.2" fill="none" stroke="#222" stroke-width="1"/>
<path d="M594.2 408.8 L599.6 410.4 L597.6 413.2 Z" fill="#111"/>
<circle cx="622.1" cy="428.2" r="1.1" fill="#222"/>
<path d="M601 421.2 L598.2 424.6" fill="none" stroke="#6c6c6c" stroke-width="0.8" stroke-dasharray="2 1.2"/>
<path d="M593.4 426.3 V428.8 H601 V426.3" fill="none" stroke="#6c6c6c" stroke-width="0.9" stroke-dasharray="2.5 1.2"/>
<path d="M622.1 428.2 H636.2 V440.6" fill="none" stroke="#6c6c6c" stroke-width="0.85"/>
<path d="M622.1 431.6 H658.4 V436.5 M622.1 431.6 V428.2" fill="none" stroke="#6c6c6c" stroke-width="0.85"/>
<path d="M657.4 432.6 L659.4 434.6 M659.4 432.6 L657.4 434.6" fill="none" stroke="#222" stroke-width="0.8"/>
<path d="M611.7 431.8 h10.2 v11.7 h-10.2 Z" fill="none" stroke="#333" stroke-width="0.9"/>
<path d="M621.9 431.8 H628.4 V443.5 H621.9" fill="none" stroke="#333" stroke-width="0.9"/>
<path d="M606.6 434 h5.1 v7.6 h-5.1 Z" fill="none" stroke="#333" stroke-width="0.8"/>
<path d="M607.2 436 h3.6 M607.2 437.6 h3.6" fill="none" stroke="#222" stroke-width="0.9"/>
<path d="M606.6 443.3 h5" fill="none" stroke="#333" stroke-width="0.8"/>
<path d="M613 432.6 v3" fill="none" stroke="#222" stroke-width="0.9"/>
<path d="M614.5 441.3 h2 M615.5 441.3 v1.6 M618.4 441.3 h2 M619.4 441.3 v1.6" fill="none" stroke="#333" stroke-width="0.7"/>
<path d="M622.6 433.5 L627.2 442.5" fill="none" stroke="#222" stroke-width="0.9"/>
<path d="M630 439.2 h3" fill="none" stroke="#222" stroke-width="1.6"/>
<circle cx="636.2" cy="440.6" r="1.2" fill="#222"/>
<text x="628.5" y="441.6" font-family="Liberation Sans" font-size="3.6" text-anchor="start" fill="#222" font-weight="bold">P</text>
<path d="M640.4 436.5 h20.5 v8.6 h-20.5 Z" fill="none" stroke="#333" stroke-width="0.9"/>
<path d="M656.5 436.5 V445.1" fill="none" stroke="#333" stroke-width="0.9"/>
<path d="M640.4 439.6 H656.5 M640.4 442.2 H656.5" fill="none" stroke="#444" stroke-width="0.8"/>
<path d="M636.2 440.6 H640.4" fill="none" stroke="#333" stroke-width="1.4"/>
<path d="M623.2 443.5 V476.4 H666.4 V420.4 H675" fill="none" stroke="#6c6c6c" stroke-width="0.85"/>
<circle cx="675" cy="420.4" r="1.1" fill="#222"/>
<path d="M643.3 445.1 V476.4" fill="none" stroke="#6c6c6c" stroke-width="0.85"/>
<circle cx="643.3" cy="458.7" r="1.1" fill="#222"/>
<circle cx="643.3" cy="476.4" r="1.1" fill="#222"/>
<path d="M642.3 466.3 L644.3 468.3 M644.3 466.3 L642.3 468.3" fill="none" stroke="#222" stroke-width="0.8"/>
<path d="M643.3 458.7 H639.7 V508.4" fill="none" stroke="#6c6c6c" stroke-width="0.85"/>
<path d="M658.4 445.1 V508.4" fill="none" stroke="#6c6c6c" stroke-width="0.85"/>
<path d="M638.6 508.4 h1.6 M657.4 508.4 h1.6" fill="none" stroke="#6c6c6c" stroke-width="0.8"/>
<path d="M671.4 413 h7.8 v15.6 h-7.8 Z" fill="none" stroke="#333" stroke-width="0.9"/>
<circle cx="675" cy="415.8" r="1.2" fill="none" stroke="#333" stroke-width="0.8"/>
<circle cx="675" cy="426" r="1.2" fill="none" stroke="#333" stroke-width="0.8"/>
<path d="M673.4 414.2 L675 415.4 L676.6 414.2" fill="none" stroke="#333" stroke-width="0.7"/>
<circle cx="675" cy="420.4" r="1.0" fill="#222"/>
<path d="M682.3 431.4 H688.4 M682.3 435.7 H688.4" fill="none" stroke="#6c6c6c" stroke-width="0.85"/>
<path d="M688.4 431.4 L685.1 428.7 V416.4 H691.6 V421.3 M688.4 435.7 L685.1 439.2 V449.5 H691.6 V445.7" fill="none" stroke="#444" stroke-width="0.9"/>
<rect x="688.4" y="421.300" width="8.4" height="6.5" rx="1.200" fill="none" stroke="#777" stroke-width="0.9"/>
<rect x="688.4" y="437" width="8.4" height="8.700" rx="1.200" fill="none" stroke="#777" stroke-width="0.9"/>
<path d="M688.4 427.8 h8.4 v9.2 h-8.4 Z" fill="none" stroke="#444" stroke-width="0.9"/>
<path d="M689.2 427.2 H696" fill="none" stroke="#222" stroke-width="1"/>
<path d="M696.8 427.2 L694.4 426 L694.4 428.4 Z" fill="#111"/>
<path d="M688.900 440 L695.4 443.6" fill="none" stroke="#222" stroke-width="0.9"/>
<path d="M696.6 444.3 L693.9 444.2 L694.9 442.4 Z" fill="#111"/>
<path d="M690 431.4 h2.6 M691.600 430.2 v2.4 M690 435.3 h1.6 M693.400 434 v2.6 M694.6 431.4 h2 M694.8 435.3 H700.9" fill="none" stroke="#333" stroke-width="0.8"/>
<text x="690.2" y="425.6" font-family="Liberation Sans" font-size="2.6" text-anchor="start" fill="#222" font-weight="bold">a</text>
<text x="690.2" y="443.8" font-family="Liberation Sans" font-size="2.6" text-anchor="start" fill="#222" font-weight="bold">b</text>
<path d="M693.2 418.4 l1 2.2 l1 -2.2 l1 2.2 M693.2 449.2 l1 -2.2 l1 2.2 l1 -2.2" fill="none" stroke="#222" stroke-width="0.8"/>
<circle cx="703.6" cy="435.2" r="2.3" fill="none" stroke="#222" stroke-width="1.2"/>
<path d="M699.5 431.600 V428.4 H703.8 V432.6 M699.5 431.6 L701.6 433.6" fill="none" stroke="#333" stroke-width="0.8"/>
<path d="M702.2 438 l2.8 1.6 l-2.8 1.4" fill="none" stroke="#222" stroke-width="1"/>
<path d="M709.3 435.2 h1.8 v4 h2.4" fill="none" stroke="#6c6c6c" stroke-width="0.8" stroke-dasharray="2.4 1"/>
<text x="699.2" y="417.0" font-family="Liberation Sans" font-size="2.7" text-anchor="start" fill="#3a3a3a" font-weight="bold" textLength="12.5" lengthAdjust="spacingAndGlyphs" stroke="#555" stroke-width="0.1">FLUSHING</text>
<text x="699.2" y="419.55" font-family="Liberation Sans" font-size="2.7" text-anchor="start" fill="#3a3a3a" font-weight="bold" textLength="8.3" lengthAdjust="spacingAndGlyphs" stroke="#555" stroke-width="0.1">VALVE</text>
<text x="699.2" y="422.1" font-family="Liberation Sans" font-size="2.7" text-anchor="start" fill="#3a3a3a" font-weight="bold" textLength="8.8" lengthAdjust="spacingAndGlyphs" stroke="#555" stroke-width="0.1">SHIFT</text>
<text x="699.2" y="424.65" font-family="Liberation Sans" font-size="2.7" text-anchor="start" fill="#3a3a3a" font-weight="bold" textLength="8.8" lengthAdjust="spacingAndGlyphs" stroke="#555" stroke-width="0.1">16 BAR</text>
<path d="M761.7 374.6 H778.5 M784.5 374.6 H788.3 M794.3 374.6 H886.4" fill="none" stroke="#666" stroke-width="0.85"/>
<path d="M761.7 374.6 V378 M761.7 383 V390 M761.7 395.5 V452 M761.7 457.5 V465 M761.7 470 V473.4" fill="none" stroke="#666" stroke-width="0.85" stroke-dasharray="22 4"/>
<path d="M886.4 374.6 V473.4" fill="none" stroke="#666" stroke-width="0.85"/>
<path d="M884.4 374.6 V436" fill="none" stroke="#888" stroke-width="0.8"/>
<path d="M761.7 473.4 H886.4" fill="none" stroke="#666" stroke-width="0.85" stroke-dasharray="14 4"/>
<path d="M823.6 374.6 V337 H856.6 M861 337 H868 M871.7 337 H904.7 V374.6 H886.4" fill="none" stroke="#666" stroke-width="0.85"/>
<path d="M786.6 374.6 V355.8 H823.6" fill="none" stroke="#6c6c6c" stroke-width="0.85"/>
<path d="M810.0 354.40000000000003 L812.8 357.2 M812.8 354.40000000000003 L810.0 357.2" fill="none" stroke="#222" stroke-width="1"/>
<path d="M816.2 354.40000000000003 L819.0 357.2 M819.0 354.40000000000003 L816.2 357.2" fill="none" stroke="#222" stroke-width="1"/>
<text x="806" y="354.6" font-family="Liberation Sans" font-size="4.4" text-anchor="start" fill="#222" font-weight="normal">D</text>
<text x="819.6" y="354.6" font-family="Liberation Sans" font-size="4.4" text-anchor="start" fill="#222" font-weight="normal">E</text>
<path d="M836.4 374.6 V350.5 L834.6 349 L836.4 347.3 V343.8 H873.6 V374.6" fill="none" stroke="#6c6c6c" stroke-width="0.85"/>
<path d="M830 374.6 V349.3 H867.9 V358" fill="none" stroke="#6c6c6c" stroke-width="0.85"/>
<path d="M866.4 358 h3" fill="none" stroke="#222" stroke-width="0.9"/>
<path d="M852.1 355.5 h37.3 v12.8 h-37.3 Z" fill="none" stroke="#444" stroke-width="0.9"/>
<path d="M862.6 355.5 V368.3 M864.4 355.5 V368.3 M876.9 355.5 V368.3" fill="none" stroke="#444" stroke-width="0.9"/>
<path d="M842.4 355.5 h9.7 v5.3 h-9.7 Z" fill="none" stroke="#555" stroke-width="0.8"/>
<path d="M843.5 356.2 L849 360.4" fill="none" stroke="#6c6c6c" stroke-width="0.8"/>
<path d="M889.4 355.5 h9.3 v5.3 h-9.3 Z" fill="none" stroke="#555" stroke-width="0.8"/>
<path d="M897.6 356.2 L892 360.4" fill="none" stroke="#6c6c6c" stroke-width="0.8"/>
<path d="M842.4 367.9 L844.02 364.5 L845.63 367.9 L847.25 364.5 L848.87 367.9 L850.48 364.5 L852.10 367.9" fill="none" stroke="#333" stroke-width="0.9"/>
<path d="M889.4 367.9 L890.95 364.5 L892.50 367.9 L894.05 364.5 L895.60 367.9 L897.15 364.5 L898.70 367.9" fill="none" stroke="#333" stroke-width="0.9"/>
<path d="M855.1 357 V366 M861.2 358 V367" fill="none" stroke="#222" stroke-width="0.9"/>
<path d="M855.1 367.3 L853.9 363.6 L856.3 363.6 Z" fill="#111"/>
<path d="M861.2 356.6 L860 360.3 L862.4 360.3 Z" fill="#111"/>
<path d="M867.9 358 V360 M867.9 368.3 V361.8 H873.6 M873.6 361.8 V368.3" fill="none" stroke="#222" stroke-width="0.9"/>
<circle cx="873.6" cy="361.8" r="1.0" fill="#222"/>
<path d="M879 356.5 L887.4 367.3 M887.4 356.5 L879 367.3" fill="none" stroke="#222" stroke-width="0.9"/>
<path d="M887.9 356.1 L884.2 358.1 L886.3 359.8 Z" fill="#111"/>
<path d="M887.9 367.8 L884.2 365.8 L886.3 364 Z" fill="#111"/>
<circle cx="811.4" cy="374.6" r="1.4" fill="#fff" stroke="#6c6c6c" stroke-width="0.9"/>
<circle cx="817.6" cy="374.6" r="1.4" fill="#fff" stroke="#6c6c6c" stroke-width="0.9"/>
<circle cx="830" cy="374.6" r="1.4" fill="#fff" stroke="#6c6c6c" stroke-width="0.9"/>
<circle cx="836.4" cy="374.6" r="1.4" fill="#fff" stroke="#6c6c6c" stroke-width="0.9"/>
<circle cx="867.5" cy="374.6" r="1.4" fill="#fff" stroke="#6c6c6c" stroke-width="0.9"/>
<circle cx="873.6" cy="374.6" r="1.4" fill="#fff" stroke="#6c6c6c" stroke-width="0.9"/>
<path d="M761.7 380.6 H855.1 V430.4" fill="none" stroke="#6c6c6c" stroke-width="0.85"/>
<path d="M761.7 467.5 H855.1 V455" fill="none" stroke="#6c6c6c" stroke-width="0.85"/>
<circle cx="761.7" cy="380.6" r="1.3" fill="#fff" stroke="#6c6c6c" stroke-width="0.9"/>
<circle cx="761.7" cy="467.5" r="1.3" fill="#fff" stroke="#6c6c6c" stroke-width="0.9"/>
<path d="M768.3 380.6 V392.8 H761.7 M768.3 467.5 V454.9 H761.7" fill="none" stroke="#6c6c6c" stroke-width="0.85"/>
<path d="M760.5 391.6 L762.9000000000001 394.0 M762.9000000000001 391.6 L760.5 394.0" fill="none" stroke="#222" stroke-width="0.9"/>
<path d="M760.5 453.7 L762.9000000000001 456.09999999999997 M762.9000000000001 453.7 L760.5 456.09999999999997" fill="none" stroke="#222" stroke-width="0.9"/>
<text x="756.3" y="388" font-family="Liberation Sans" font-size="4.2" text-anchor="start" fill="#222" font-weight="normal">A</text>
<text x="752.2" y="400.2" font-family="Liberation Sans" font-size="4" text-anchor="start" fill="#222" font-weight="normal">M1</text>
<text x="752.2" y="452.2" font-family="Liberation Sans" font-size="4" text-anchor="start" fill="#222" font-weight="normal">M2</text>
<text x="756.3" y="465.6" font-family="Liberation Sans" font-size="4.2" text-anchor="start" fill="#222" font-weight="normal">B</text>
<circle cx="768.3" cy="380.6" r="1.1" fill="#222"/>
<circle cx="768.3" cy="467.5" r="1.1" fill="#222"/>
<circle cx="774.3" cy="380.6" r="1.1" fill="#222"/>
<circle cx="774.3" cy="467.5" r="1.1" fill="#222"/>
<circle cx="799.3" cy="380.6" r="1.1" fill="#222"/>
<circle cx="799.3" cy="467.5" r="1.1" fill="#222"/>
<path d="M774.3 380.6 V417.9 M774.3 423.9 V467.5" fill="none" stroke="#6c6c6c" stroke-width="0.85"/>
<path d="M772.2 417.9 H776.4 L772.2 423.9 H776.4 Z" fill="none" stroke="#333" stroke-width="0.8"/>
<path d="M799.3 380.6 V467.5" fill="none" stroke="#6c6c6c" stroke-width="0.85"/>
<path d="M778.5 386.8 h26.8 v30.8 h-26.8 Z" fill="none" stroke="#444" stroke-width="0.9"/>
<circle cx="799.3" cy="401.7" r="3.2" fill="#fff" stroke="#333" stroke-width="0.9"/>
<path d="M799.3 392.3 H785.7 V398.7 H780.8 V403.6 H783" fill="none" stroke="#333" stroke-width="0.9"/>
<path d="M783 401.40000000000003 h5.3 v6.7 h-5.3 Z" fill="none" stroke="#222" stroke-width="1"/>
<path d="M785.7 408.1 V411.1 H799.3" fill="none" stroke="#333" stroke-width="0.9"/>
<circle cx="785.7" cy="398.7" r="1.0" fill="#222"/>
<circle cx="799.3" cy="392.3" r="1.1" fill="#222"/>
<circle cx="799.3" cy="411.1" r="1.1" fill="#222"/>
<text x="789.2" y="405.6" font-family="Liberation Sans" font-size="3.4" text-anchor="start" fill="#222" font-weight="bold">w</text>
<path d="M778.5 430.4 h26.8 v30.8 h-26.8 Z" fill="none" stroke="#444" stroke-width="0.9"/>
<circle cx="799.3" cy="446.29999999999995" r="3.2" fill="#fff" stroke="#333" stroke-width="0.9"/>
<path d="M799.3 455.7 H785.7 V449.29999999999995 H780.8 V444.4 H783" fill="none" stroke="#333" stroke-width="0.9"/>
<path d="M783 439.9 h5.3 v6.7 h-5.3 Z" fill="none" stroke="#222" stroke-width="1"/>
<path d="M785.7 439.9 V436.9 H799.3" fill="none" stroke="#333" stroke-width="0.9"/>
<circle cx="785.7" cy="449.29999999999995" r="1.0" fill="#222"/>
<circle cx="799.3" cy="455.7" r="1.1" fill="#222"/>
<circle cx="799.3" cy="436.9" r="1.1" fill="#222"/>
<text x="789.2" y="443.59999999999997" font-family="Liberation Sans" font-size="3.4" text-anchor="start" fill="#222" font-weight="bold">w</text>
<text x="780" y="385.8" font-family="Liberation Sans" font-size="4.7" text-anchor="start" fill="#222" font-weight="normal" textLength="16.5" lengthAdjust="spacing">325 bar</text>
<text x="780" y="466.2" font-family="Liberation Sans" font-size="4.7" text-anchor="start" fill="#222" font-weight="normal" textLength="16.5" lengthAdjust="spacing">325 bar</text>
<circle cx="799.3" cy="423.9" r="1.1" fill="#222"/>
<path d="M799.3 423.9 H817.6" fill="none" stroke="#666" stroke-width="1.2"/>
<circle cx="817.6" cy="423.9" r="1.1" fill="#222"/>
<path d="M817.6 374.6 V379.0 A1.6 1.6 0 0 0 817.6 382.20000000000005 V442.7" fill="none" stroke="#6c6c6c" stroke-width="0.85"/>
<circle cx="817.6" cy="393.1" r="1.1" fill="#222"/>
<circle cx="817.6" cy="442.7" r="1.1" fill="#222"/>
<path d="M811.4 374.6 V379.0 A1.6 1.6 0 0 0 811.4 382.20000000000005 V411.4" fill="none" stroke="#6c6c6c" stroke-width="0.85"/>
<path d="M811.4 411.4 H816.0 A1.6 1.6 0 0 1 819.2 411.4 H836.4" fill="none" stroke="#6c6c6c" stroke-width="0.85"/>
<path d="M836.4 411.4 V436.1" fill="none" stroke="#6c6c6c" stroke-width="0.85"/>
<circle cx="836.4" cy="442.4" r="6.3" fill="none" stroke="#333" stroke-width="1"/>
<path d="M836.4 436.6 L834.3 440.2 L838.5 440.2 Z" fill="#111"/>
<path d="M836.4 448.7 V466.1 A1.4 1.4 0 0 0 836.4 468.9 V472" fill="none" stroke="#6c6c6c" stroke-width="0.85"/>
<circle cx="836.4" cy="473.4" r="1.4" fill="#fff" stroke="#6c6c6c" stroke-width="0.9"/>
<text x="838.6" y="481" font-family="Liberation Sans" font-size="4.2" text-anchor="start" fill="#222" font-weight="normal">S</text>
<path d="M830 374.6 V379.0 A1.6 1.6 0 0 0 830 382.20000000000005 V392.6" fill="none" stroke="#6c6c6c" stroke-width="0.85"/>
<path d="M830 392.6 Q830 393.1 828 393.1 H817.6" fill="none" stroke="#6c6c6c" stroke-width="0.85"/>
<path d="M836.4 374.6 V379.0 A1.6 1.6 0 0 0 836.4 382.20000000000005 V399.2" fill="none" stroke="#6c6c6c" stroke-width="0.85"/>
<path d="M828.7 385.5 q1.3 2.3 0 4.6 M831.3 385.5 q-1.3 2.3 0 4.6" fill="none" stroke="#222" stroke-width="0.8"/>
<path d="M835.1 385.5 q1.3 2.3 0 4.6 M837.6999999999999 385.5 q-1.3 2.3 0 4.6" fill="none" stroke="#222" stroke-width="0.8"/>
<path d="M832.9 396.8 V399.3 H839.8 V396.8" fill="none" stroke="#6c6c6c" stroke-width="0.9"/>
<path d="M867.5 374.6 V421.6" fill="none" stroke="#6c6c6c" stroke-width="0.85"/>
<path d="M873.6 374.6 V417.8" fill="none" stroke="#6c6c6c" stroke-width="0.85"/>
<path d="M866.2 379.5 q1.3 2.3 0 4.6 M868.8 379.5 q-1.3 2.3 0 4.6" fill="none" stroke="#222" stroke-width="0.8"/>
<path d="M872.3000000000001 379.5 q1.3 2.3 0 4.6 M874.9 379.5 q-1.3 2.3 0 4.6" fill="none" stroke="#222" stroke-width="0.8"/>
<circle cx="867.5" cy="393.1" r="1.1" fill="#222"/>
<circle cx="873.6" cy="399.1" r="1.1" fill="#222"/>
<path d="M867.5 393.1 H871.9 A1.7 1.7 0 0 1 875.3000000000001 393.1 H886.4" fill="none" stroke="#6c6c6c" stroke-width="0.85"/>
<path d="M873.6 399.1 H886.4" fill="none" stroke="#6c6c6c" stroke-width="0.85"/>
<path d="M885.1999999999999 391.90000000000003 L887.6 394.3 M887.6 391.90000000000003 L885.1999999999999 394.3" fill="none" stroke="#222" stroke-width="0.9"/>
<path d="M885.1999999999999 397.90000000000003 L887.6 400.3 M887.6 397.90000000000003 L885.1999999999999 400.3" fill="none" stroke="#222" stroke-width="0.9"/>
<text x="888.2" y="389" font-family="Liberation Sans" font-size="4" text-anchor="start" fill="#222" font-weight="normal">M4</text>
<text x="888.2" y="405.4" font-family="Liberation Sans" font-size="4" text-anchor="start" fill="#222" font-weight="normal">M5</text>
<circle cx="855.1" cy="442.7" r="12.3" fill="none" stroke="#333" stroke-width="1"/>
<path d="M855.1 430.6 L852.8 435.2 L857.4 435.2 Z" fill="#111"/>
<path d="M855.1 454.8 L852.8 450.2 L857.4 450.2 Z" fill="#111"/>
<path d="M864.2 455.4 L845.2 427" fill="none" stroke="#222" stroke-width="1"/>
<path d="M843.6 424.6 L845.1 430 L848.4 427.9 Z" fill="#111"/>
<path d="M876.2 415.3 L882.6 420.9 L870.9 432.6 L864.5 426.9 Z" fill="none" stroke="#333" stroke-width="0.9"/>
<path d="M866.2 428.4 L863 431.2 M869.2 431 L866 434" fill="none" stroke="#333" stroke-width="0.9"/>
<path d="M864.5 451.7 L867.2 455.4 V461.1 M864.5 457.7 V461.1 H870.5 V457.7" fill="none" stroke="#6c6c6c" stroke-width="0.9"/>
<path d="M867.5 440.9 H1032.8 M867.5 442.9 H1032.8" fill="none" stroke="#777" stroke-width="0.9"/>
<path d="M881.4 453.5 H885" fill="none" stroke="#6c6c6c" stroke-width="0.85"/>
<circle cx="886" cy="453.5" r="1.2" fill="#fff" stroke="#6c6c6c" stroke-width="0.9"/>
<text x="888.2" y="460.4" font-family="Liberation Sans" font-size="4" text-anchor="start" fill="#222" font-weight="normal">L2</text>
<path d="M879.5 468 V472" fill="none" stroke="#6c6c6c" stroke-width="0.85"/>
<circle cx="879.5" cy="473.4" r="1.3" fill="#fff" stroke="#6c6c6c" stroke-width="0.9"/>
<text x="870.4" y="480.2" font-family="Liberation Sans" font-size="4" text-anchor="start" fill="#222" font-weight="normal">L1</text>
<path d="M817.6 442.7 H823.1 V448.7 H820.3" fill="none" stroke="#6c6c6c" stroke-width="0.9"/>
<path d="M815 445.4 h5.3 v6.3 h-5.3 Z" fill="none" stroke="#222" stroke-width="1"/>
<path d="M817.6 442.7 V445.4 M817.6 451.7 V461.1 M814.6 457.7 V461.1 H821.6 V457.7" fill="none" stroke="#6c6c6c" stroke-width="0.9"/>
<path d="M816.4 450.6 L819 446.4" fill="none" stroke="#222" stroke-width="0.8"/>
<text x="811.2" y="450.4" font-family="Liberation Sans" font-size="3.4" text-anchor="start" fill="#222" font-weight="bold">w</text>
<text x="818.3" y="457.4" font-family="Liberation Sans" font-size="4.7" text-anchor="start" fill="#222" font-weight="normal" textLength="14.3" lengthAdjust="spacing">24 bar</text>
<path d="M934.3 390.6 H975.5 M979.5 390.6 H1019.4" fill="none" stroke="#666" stroke-width="0.85"/>
<path d="M934.3 390.6 V479.2" fill="none" stroke="#666" stroke-width="0.85" stroke-dasharray="26 4 8 4"/>
<path d="M934.3 479.2 H1064.1" fill="none" stroke="#666" stroke-width="0.85" stroke-dasharray="16 4"/>
<path d="M1064.1 359.3 V386 M1064.1 390.6 V479.2" fill="none" stroke="#777" stroke-width="0.85" stroke-dasharray="24 5"/>
<path d="M1019.4 390.6 V354.6 H1054.8 M1061 354.6 H1066.8 M1072.6 354.6 H1108.7 V390.6 H1019.4" fill="none" stroke="#666" stroke-width="0.85"/>
<path d="M1023.8 363.8 V373.3 M1023.8 378 V390.6" fill="none" stroke="#6c6c6c" stroke-width="0.85"/>
<circle cx="1023.8" cy="375.7" r="2.3" fill="none" stroke="#333" stroke-width="0.9"/>
<circle cx="1023.8" cy="368.4" r="1.0" fill="#222"/>
<circle cx="1023.8" cy="381.7" r="1.0" fill="#222"/>
<path d="M1023.8 368.4 H1032.7 V381.7 H1023.8" fill="none" stroke="#6c6c6c" stroke-width="0.85"/>
<path d="M1023.8 363.8 H1036.6 L1037.3 363 V359.3 H1064.1" fill="none" stroke="#6c6c6c" stroke-width="0.85"/>
<path d="M1037.3 363.8 V385.9 H1028.2 V390.6" fill="none" stroke="#6c6c6c" stroke-width="0.85"/>
<path d="M1036.6 363.8 H1058.2 V368" fill="none" stroke="#6c6c6c" stroke-width="0.85"/>
<path d="M1031.6000000000001 374 q1.1 1.7 0 3.4 M1033.8 374 q-1.1 1.7 0 3.4" fill="none" stroke="#222" stroke-width="0.8"/>
<path d="M1036.2 374 q1.1 1.7 0 3.4 M1038.3999999999999 374 q-1.1 1.7 0 3.4" fill="none" stroke="#222" stroke-width="0.8"/>
<path d="M1048.6 368 h26.1 v10 h-26.1 Z" fill="none" stroke="#5a5a5a" stroke-width="1.5"/>
<path d="M1057.8 368 V378 M1066.8 368 V378" fill="none" stroke="#5a5a5a" stroke-width="1.4"/>
<path d="M1050.5 370 L1055.5 376.2 M1051 370 V372.5 M1068.5 376.2 L1073 370" fill="none" stroke="#222" stroke-width="1"/>
<path d="M1056.2 377.2 L1053 375.4 L1055.2 373.8 Z" fill="#111"/>
<path d="M1067.9 377.2 L1068.6 373.6 L1070.9 375.4 Z" fill="#111"/>
<path d="M1059.5 371.6 h5.5 M1062.2 368 v3.6 M1060.6 378 v-2.6 M1064 378 v-2.6" fill="none" stroke="#222" stroke-width="1"/>
<path d="M1042.8 377.2 L1044.25 374.8 L1045.70 377.2 L1047.15 374.8 L1048.60 377.2" fill="none" stroke="#333" stroke-width="0.9"/>
<path d="M1074.7 377.2 L1076.25 374.8 L1077.80 377.2 L1079.35 374.8 L1080.90 377.2" fill="none" stroke="#333" stroke-width="0.9"/>
<path d="M1074.7 368.4 H1084 M1088.2 368.4 H1092.4" fill="none" stroke="#6c6c6c" stroke-width="0.85"/>
<path d="M1086.1 366.3 L1088.2 368.4 L1086.1 370.5 L1084 368.4 Z" fill="#fff" stroke="#333" stroke-width="0.9"/>
<path d="M1086.1 364 V366.3 M1086.1 370.5 V376.4" fill="none" stroke="#333" stroke-width="0.8"/>
<circle cx="1083.8" cy="371.6" r="0.9" fill="none" stroke="#333" stroke-width="0.7"/>
<circle cx="1088.6" cy="371.6" r="0.9" fill="none" stroke="#333" stroke-width="0.7"/>
<path d="M1084.6 375 q1.5 -1.6 3 0" fill="none" stroke="#333" stroke-width="0.8"/>
<path d="M1084.6 376.6 h3" fill="none" stroke="#333" stroke-width="0.8"/>
<text x="1081.3" y="363.1" font-family="Liberation Sans" font-size="3.1" text-anchor="start" fill="#333" font-weight="bold">0 N A</text>
<path d="M1092.4 368.6 V370.6 Q1092.4 371.4 1093.400 371.4 H1097.6 L1101 366.2" fill="none" stroke="#6c6c6c" stroke-width="0.9"/>
<circle cx="1101.6" cy="365.3" r="1.1" fill="none" stroke="#333" stroke-width="0.8"/>
<path d="M1047.8 378 V430.5 M1050.2 381.2 V428" fill="none" stroke="#555" stroke-width="1.2"/>
<path d="M1059.5 378 V381.2 H1050.2" fill="none" stroke="#555" stroke-width="1.1"/>
<path d="M1062.7 378 V385.4 H1054.8 V423.6" fill="none" stroke="#6c6c6c" stroke-width="0.85"/>
<path d="M997.4 390.6 V381.3 H1014.8" fill="none" stroke="#6c6c6c" stroke-width="0.85"/>
<path d="M1001.6 399.4 V386.4 H1014.8" fill="none" stroke="#6c6c6c" stroke-width="0.85"/>
<circle cx="1014.8" cy="381.3" r="1.0" fill="#222"/>
<circle cx="1014.8" cy="386.2" r="0.9" fill="#222"/>
<text x="1008" y="380.3" font-family="Liberation Sans" font-size="3" text-anchor="start" fill="#222" font-weight="bold">M3</text>
<path d="M1014.8 381.3 V393.3 A1.5 1.5 0 0 0 1014.8 396.3 V406.8 A1.5 1.5 0 0 0 1014.8 409.8 V419.9 A1.5 1.5 0 0 0 1014.8 422.9 V452.9" fill="none" stroke="#6c6c6c" stroke-width="0.85"/>
<path d="M1023.8 390.6 V393.40000000000003 A1.4 1.4 0 0 0 1023.8 396.2 V399.1" fill="none" stroke="#6c6c6c" stroke-width="0.85"/>
<path d="M1028.2 390.6 V393.40000000000003 A1.4 1.4 0 0 0 1028.2 396.2 V397.4" fill="none" stroke="#6c6c6c" stroke-width="0.85"/>
<path d="M1025.600 397.4 V399.4 H1030.9 V397.4" fill="none" stroke="#6c6c6c" stroke-width="0.9"/>
<path d="M1001.6 399.1 H1023.8" fill="none" stroke="#6c6c6c" stroke-width="0.85"/>
<path d="M1001.6 399.1 V430.7" fill="none" stroke="#6c6c6c" stroke-width="0.85"/>
<circle cx="1001.6" cy="399.4" r="0.9" fill="#222"/>
<circle cx="1001.6" cy="390.5" r="1.1" fill="#fff" stroke="#6c6c6c" stroke-width="0.9"/>
<circle cx="1023.8" cy="390.5" r="1.1" fill="#fff" stroke="#6c6c6c" stroke-width="0.9"/>
<circle cx="1028.2" cy="390.5" r="1.1" fill="#fff" stroke="#6c6c6c" stroke-width="0.9"/>
<path d="M920.6 394.8 H1041.7 V434.9" fill="none" stroke="#6c6c6c" stroke-width="0.85"/>
<path d="M923.4 475.1 H1041.7 V452.5" fill="none" stroke="#6c6c6c" stroke-width="0.85"/>
<path d="M939.2 394.8 V404.1 H934.3 M939.2 475.1 V466.4 H934.3" fill="none" stroke="#6c6c6c" stroke-width="0.85"/>
<path d="M933.3 393.8 L935.3 395.8 M935.3 393.8 L933.3 395.8" fill="none" stroke="#222" stroke-width="0.9"/>
<path d="M933.3 403.1 L935.3 405.1 M935.3 403.1 L933.3 405.1" fill="none" stroke="#222" stroke-width="0.9"/>
<path d="M933.3 465.4 L935.3 467.4 M935.3 465.4 L933.3 467.4" fill="none" stroke="#222" stroke-width="0.9"/>
<path d="M933.3 474.1 L935.3 476.1 M935.3 474.1 L933.3 476.1" fill="none" stroke="#222" stroke-width="0.9"/>
<circle cx="939.2" cy="394.8" r="1.0" fill="#222"/>
<circle cx="939.2" cy="475.1" r="1.0" fill="#222"/>
<circle cx="939.2" cy="404.1" r="0.9" fill="#222"/>
<circle cx="939.2" cy="466.4" r="0.9" fill="#222"/>
<text x="930.8" y="400.6" font-family="Liberation Sans" font-size="2.8" text-anchor="start" fill="#222" font-weight="bold">A</text>
<text x="927.6" y="409.6" font-family="Liberation Sans" font-size="2.7" text-anchor="start" fill="#222" font-weight="bold">M1</text>
<text x="927.6" y="464.6" font-family="Liberation Sans" font-size="2.7" text-anchor="start" fill="#222" font-weight="bold">M2</text>
<text x="930.8" y="474" font-family="Liberation Sans" font-size="2.8" text-anchor="start" fill="#222" font-weight="bold">B</text>
<path d="M957.1 394.8 V475.1" fill="none" stroke="#6c6c6c" stroke-width="0.85"/>
<circle cx="957.1" cy="394.8" r="1.0" fill="#222"/>
<circle cx="957.1" cy="408.3" r="1.0" fill="#222"/>
<circle cx="957.1" cy="421.4" r="1.0" fill="#222"/>
<circle cx="957.1" cy="430.7" r="1.0" fill="#222"/>
<circle cx="957.1" cy="448.4" r="1.0" fill="#222"/>
<circle cx="957.1" cy="461.9" r="1.0" fill="#222"/>
<circle cx="957.1" cy="475.1" r="1.0" fill="#222"/>
<path d="M943.3 399.6 h45.5 v27 h-45.5 Z" fill="none" stroke="#555" stroke-width="0.9"/>
<path d="M943.3 443.9 h45.5 v27 h-45.5 Z" fill="none" stroke="#555" stroke-width="0.9"/>
<text x="958.2" y="398.4" font-family="Liberation Sans" font-size="3" text-anchor="start" fill="#222" font-weight="bold">420 bar</text>
<text x="958.2" y="474.6" font-family="Liberation Sans" font-size="3" text-anchor="start" fill="#222" font-weight="bold">420 bar</text>
<path d="M948.2 408.3 H1001.6" fill="none" stroke="#6c6c6c" stroke-width="0.85"/>
<path d="M948.2 408.3 V412.3 M948.2 417.6 V421.4 H965.8 V419.9" fill="none" stroke="#6c6c6c" stroke-width="0.85"/>
<path d="M946.9 412.3 l2.6 1.3 l-2.6 1.3 l2.6 1.3 l-2.6 1.3" fill="none" stroke="#333" stroke-width="0.7"/>
<path d="M957.1 411.6 L959.8 414.3 L957.1 417 L954.4 414.3 Z" fill="#fff" stroke="#333" stroke-width="0.9"/>
<rect x="962" y="413.1" width="7.6" height="6.8" rx="2" fill="#fff" stroke="#333" stroke-width="1"/>
<path d="M965.8 408.3 V413.1" fill="none" stroke="#6c6c6c" stroke-width="0.9"/>
<path d="M974.8 408.3 V417.6 H969.6" fill="none" stroke="#6c6c6c" stroke-width="0.9" stroke-dasharray="2 1.3"/>
<circle cx="969.6" cy="417.6" r="0.9" fill="#222"/>
<path d="M969.4 407.3 L971.4 409.3 M971.4 407.3 L969.4 409.3" fill="none" stroke="#222" stroke-width="0.8"/>
<circle cx="965.8" cy="408.3" r="1.0" fill="#222"/>
<circle cx="974.8" cy="408.3" r="1.0" fill="#222"/>
<circle cx="992.8" cy="408.3" r="1.0" fill="#222"/>
<path d="M979.3 404.1 h6.7 v7.5 h-6.7 Z" fill="none" stroke="#222" stroke-width="1"/>
<path d="M977 408.3 H979.3 M979.8 410.6 L985.4 405" fill="none" stroke="#222" stroke-width="0.9"/>
<path d="M982.6 404.1 V402.2 H977 V408.3" fill="none" stroke="#6c6c6c" stroke-width="0.8"/>
<text x="984" y="413.2" font-family="Liberation Sans" font-size="3" text-anchor="start" fill="#222" font-weight="bold">w</text>
<path d="M948.2 462.2 H1007.1 V421.4 H1064.1" fill="none" stroke="#6c6c6c" stroke-width="0.85"/>
<path d="M948.2 462.2 V458.2 M948.2 452.9 V449.1 H965.8 V450.6" fill="none" stroke="#6c6c6c" stroke-width="0.85"/>
<path d="M946.9 458.2 l2.6 -1.3 l-2.6 -1.3 l2.6 -1.3 l-2.6 -1.3" fill="none" stroke="#333" stroke-width="0.7"/>
<path d="M957.1 458.9 L959.8 456.2 L957.1 453.5 L954.4 456.2 Z" fill="#fff" stroke="#333" stroke-width="0.9"/>
<rect x="962" y="450.6" width="7.6" height="6.8" rx="2" fill="#fff" stroke="#333" stroke-width="1"/>
<path d="M965.8 462.2 V457.4" fill="none" stroke="#6c6c6c" stroke-width="0.9"/>
<path d="M974.8 462.2 V452.9 H969.6" fill="none" stroke="#6c6c6c" stroke-width="0.9" stroke-dasharray="2 1.3"/>
<circle cx="969.6" cy="452.9" r="0.9" fill="#222"/>
<path d="M969.4 461.2 L971.4 463.2 M971.4 461.2 L969.4 463.2" fill="none" stroke="#222" stroke-width="0.8"/>
<circle cx="965.8" cy="462.2" r="1.0" fill="#222"/>
<circle cx="974.8" cy="462.2" r="1.0" fill="#222"/>
<circle cx="992.8" cy="462.2" r="1.0" fill="#222"/>
<path d="M979.3 458.9 h6.7 v7.5 h-6.7 Z" fill="none" stroke="#222" stroke-width="1"/>
<path d="M977 462.2 H979.3 M979.8 459.9 L985.4 465.5" fill="none" stroke="#222" stroke-width="0.9"/>
<path d="M982.6 466.4 V468.3 H977 V462.2" fill="none" stroke="#6c6c6c" stroke-width="0.8"/>
<text x="984" y="459.90000000000003" font-family="Liberation Sans" font-size="3" text-anchor="start" fill="#222" font-weight="bold">w</text>
<path d="M992.8 408.3 V461.9" fill="none" stroke="#6c6c6c" stroke-width="0.85"/>
<path d="M957.1 430.7 H1001.6" fill="none" stroke="#6c6c6c" stroke-width="0.85"/>
<circle cx="992.8" cy="430.7" r="1.0" fill="#222"/>
<path d="M992.8 417.2 L995.5 419.9 L992.8 422.59999999999997 L990.1 419.9 Z" fill="#fff" stroke="#333" stroke-width="0.9"/>
<path d="M992.8 447.7 L995.5 450.4 L992.8 453.09999999999997 L990.1 450.4 Z" fill="#fff" stroke="#333" stroke-width="0.9"/>
<path d="M1001.6 408.3 H1064.1" fill="none" stroke="#6c6c6c" stroke-width="0.85"/>
<circle cx="1001.6" cy="408.3" r="1.0" fill="#222"/>
<circle cx="1041.7" cy="408.3" r="1.0" fill="#222"/>
<circle cx="1050.4" cy="408.3" r="1.0" fill="#222"/>
<circle cx="1054.9" cy="408.3" r="1.0" fill="#222"/>
<circle cx="1014.8" cy="421.4" r="1.0" fill="#222"/>
<circle cx="1041.7" cy="421.4" r="1.0" fill="#222"/>
<circle cx="1050.4" cy="421.4" r="1.0" fill="#222"/>
<circle cx="1054.9" cy="421.4" r="1.0" fill="#222"/>
<path d="M1063.0 407.2 L1065.1999999999998 409.40000000000003 M1065.1999999999998 407.2 L1063.0 409.40000000000003" fill="none" stroke="#222" stroke-width="0.9"/>
<path d="M1063.0 420.29999999999995 L1065.1999999999998 422.5 M1065.1999999999998 420.29999999999995 L1063.0 422.5" fill="none" stroke="#222" stroke-width="0.9"/>
<text x="1065.2" y="406.2" font-family="Liberation Sans" font-size="3" text-anchor="start" fill="#222" font-weight="bold">M5</text>
<text x="1065.2" y="426.6" font-family="Liberation Sans" font-size="3" text-anchor="start" fill="#222" font-weight="bold">M4</text>
<circle cx="1041.7" cy="443.9" r="9" fill="none" stroke="#333" stroke-width="1"/>
<path d="M1041.7 435.2 L1039.9 438.7 L1043.5 438.7 Z" fill="#111"/>
<path d="M1041.7 452.6 L1039.9 449.1 L1043.5 449.1 Z" fill="#111"/>
<path d="M1048.4 452.9 L1034.4 432.7" fill="none" stroke="#222" stroke-width="1"/>
<path d="M1033 430.6 L1034.2 435.2 L1037 433.3 Z" fill="#111"/>
<path d="M1057.4 424.4 L1062 428.9 L1052.2 437.9 L1048 433.7 Z" fill="none" stroke="#333" stroke-width="0.9"/>
<path d="M1049.4 435.2 L1047.2 437.2 M1051.200 437 L1049 439" fill="none" stroke="#333" stroke-width="0.8"/>
<path d="M1046.2 449.9 L1049.2 453.4 V457 M1048 455 V457 H1052.6 V455" fill="none" stroke="#6c6c6c" stroke-width="0.9"/>
<path d="M1050.6 441.1 H1113.2 M1050.6 443.3 H1113.2" fill="none" stroke="#777" stroke-width="0.9"/>
<circle cx="1014.8" cy="452.9" r="1.0" fill="#222"/>
<path d="M1012.4 454.9 h5.7 v5.5 h-5.7 Z" fill="none" stroke="#222" stroke-width="1"/>
<path d="M1014.8 452.9 H1018.8 V457.5 H1018.1 M1014.8 460.4 V466.4 M1011.9 464.2 V466.4 H1017.6 V464.2" fill="none" stroke="#6c6c6c" stroke-width="0.8"/>
<text x="1009" y="459.3" font-family="Liberation Sans" font-size="3" text-anchor="start" fill="#222" font-weight="bold">w</text>
<text x="1018" y="463.8" font-family="Liberation Sans" font-size="3" text-anchor="start" fill="#222" font-weight="bold">24 bar</text>
<path d="M1060.1 452.9 H1064.1" fill="none" stroke="#6c6c6c" stroke-width="0.85"/>
<circle cx="1064.1" cy="452.9" r="0.9" fill="#222"/>
<text x="1065" y="457.8" font-family="Liberation Sans" font-size="2.8" text-anchor="start" fill="#222" font-weight="bold">L2</text>
<path d="M1059.4 477.4 L1060.6 479.2 L1059.4 481 L1058.2 479.2 Z M1059.4 475.6 V477.4" fill="#fff" stroke="#333" stroke-width="0.8"/>
<text x="1052.6" y="484.2" font-family="Liberation Sans" font-size="2.7" text-anchor="start" fill="#222" font-weight="bold">L1</text>
<path d="M1113.2 411.5 h9.3 v65.6 h-9.3 Z" fill="none" stroke="#555" stroke-width="0.9"/>
<path d="M1117.8 411.5 V477.1" fill="none" stroke="#555" stroke-width="0.9"/>
<path d="M1122.5 441.1 H1158.3 M1122.5 443.5 H1158.3" fill="none" stroke="#777" stroke-width="0.9"/>
<path d="M1158.3 443.5 V441.1" fill="none" stroke="#777" stroke-width="0.9"/>
<path d="M1158.3 415.5 H1190.1 M1196.9 415.5 H1208.2 M1211.2 415.5 H1244.7" fill="none" stroke="#555" stroke-width="0.85"/>
<path d="M1158.3 465.4 H1190.1 M1196.9 465.4 H1205.3 M1209.6 465.4 H1244.7" fill="none" stroke="#555" stroke-width="0.85"/>
<path d="M1158.3 415.5 V432.2 M1158.3 447 V465.4" fill="none" stroke="#555" stroke-width="0.85"/>
<path d="M1244.7 415.5 V430.7 M1244.7 433.8 V442.7 M1244.7 446.8 V465.4" fill="none" stroke="#555" stroke-width="0.85"/>
<path d="M1164.3 419.3 h76.5 v42.3 h-76.5 Z" fill="none" stroke="#555" stroke-width="0.9"/>
<path d="M1183.4 465.4 V475.3 M1187.4 465.4 V475.3 M1183.4 483.6 V512.6 M1187.4 483.6 V512.4" fill="none" stroke="#666" stroke-width="0.9"/>
<path d="M1165.3 475.3 h40.3 v8.3 h-40.3 Z" fill="none" stroke="#555" stroke-width="0.9"/>
<path d="M1165.3 479.4 H1205.6" fill="none" stroke="#555" stroke-width="0.9"/>
<circle cx="1185.5" cy="521.5" r="9.3" fill="none" stroke="#444" stroke-width="0.9"/>
<path d="M1195 521.5 L1188.6 518.4 L1188.6 524.6 Z" fill="#111"/>
<path d="M1301.3 413.5 H1349.3 M1353.9 413.5 H1362 M1365.8 413.5 H1374.4 M1378.9 413.5 H1427.2 V475.2 H1378.9 M1374.4 475.2 H1366.9 M1362 475.2 H1353.9 M1349.3 475.2 H1301.3 V413.5" fill="none" stroke="#555" stroke-width="0.85"/>
<path d="M1301.2 421.5 H1304.4 M1308.400 421.5 H1366.1" fill="none" stroke="#6c6c6c" stroke-width="0.85"/>
<path d="M1306.4 419.4 L1308.400 421.5 L1306.4 423.6 L1304.4 421.5 Z M1301.3 420.2 L1302.6 421.5 L1301.3 422.8 L1300 421.5 Z" fill="#fff" stroke="#333" stroke-width="0.9"/>
<text x="1296.2" y="419.8" font-family="Liberation Serif" font-size="4" text-anchor="start" fill="#000" font-weight="bold">P</text>
<text x="1297" y="468.6" font-family="Liberation Serif" font-size="4" text-anchor="start" fill="#000" font-weight="bold">T</text>
<path d="M1301.2 461.3 L1303.2 463.3 L1301.2 465.3 L1299.2 463.3 Z" fill="#fff" stroke="#333" stroke-width="0.8"/>
<path d="M1303.2 463.4 H1369.1" fill="none" stroke="#6c6c6c" stroke-width="0.85"/>
<path d="M1313.4 421.5 V428.3 M1313.4 437.5 V463.4" fill="none" stroke="#6c6c6c" stroke-width="0.85"/>
<path d="M1310.4 428.3 h8 v9.2 h-8 Z" fill="none" stroke="#555" stroke-width="0.9"/>
<path d="M1313.4 426.6 H1306.5 V433.9 M1310.4 428.1 H1308.4 V436.2 H1310.4" fill="none" stroke="#888" stroke-width="0.9"/>
<path d="M1310.6 436.2 L1308.8 435.2 L1308.8 437.2 Z" fill="#111"/>
<path d="M1318.4 435.8 l1 -3.6 l1.2 3 l1.2 -4.6 l1 2.6" fill="none" stroke="#333" stroke-width="0.8"/>
<path d="M1319.2 436.8 L1323.6 428.6" fill="none" stroke="#333" stroke-width="0.8"/>
<path d="M1324 427.8 L1321.9 429.4 L1323.5 430.3 Z" fill="#111"/>
<text x="1302.8" y="441.4" font-family="Liberation Serif" font-size="4.6" text-anchor="start" fill="#111" font-weight="bold" textLength="10.3" lengthAdjust="spacingAndGlyphs">170b</text>
<path d="M1327.4 416.6 V436.9 M1327.4 442.2 V448.2 M1327.4 452.3 V471.9" fill="none" stroke="#555" stroke-width="0.95"/>
<path d="M1329.4 418.4 V436.9 M1329.4 442.2 V448.2 M1329.4 452.3 V470.4" fill="none" stroke="#666" stroke-width="0.9"/>
<path d="M1327.4 416.6 H1376.3 M1329.4 418.4 H1373.3" fill="none" stroke="#666" stroke-width="0.9"/>
<path d="M1327.4 471.9 H1369.9 M1329.4 470.4 H1369.9" fill="none" stroke="#777" stroke-width="0.9"/>
<path d="M1348.4 413.5 Q1351.2 417.5 1348.4 421.5 M1348.4 467.4 Q1351.2 471.4 1348.4 475.2" fill="none" stroke="#444" stroke-width="0.9"/>
<path d="M1365.8 474.4 L1364.1 471.4 L1367.5 471.4 Z" fill="#111"/>
<circle cx="1340.7" cy="445.3" r="8.1" fill="none" stroke="#333" stroke-width="1" stroke-dasharray="5.5 2.2"/>
<path d="M1340.7 437.2 V433.5 H1354.5 V444.6 H1369.1 M1340.7 453.4 V457.4 H1354.5 V447.2 H1369.1" fill="none" stroke="#6c6c6c" stroke-width="0.9"/>
<path d="M1339.4 437.3 L1342 437.3 L1340.7 439.6 Z" fill="#111"/>
<path d="M1339.4 441.90000000000003 L1342 441.90000000000003 L1340.7 439.6 Z" fill="#111"/>
<path d="M1339.4 449.09999999999997 L1342 449.09999999999997 L1340.7 451.4 Z" fill="#111"/>
<path d="M1339.4 453.7 L1342 453.7 L1340.7 451.4 Z" fill="#111"/>
<path d="M1359.9 421.5 V429.3 M1359.9 433.5 V466.2 H1391.9 V444.6 H1412.3" fill="none" stroke="#6c6c6c" stroke-width="0.85"/>
<path d="M1359.9 429.3 L1362 431.4 L1359.9 433.5 L1357.8 431.4 Z" fill="#fff" stroke="#333" stroke-width="0.9"/>
<path d="M1366.1 421.5 V463.4" fill="none" stroke="#8a8a8a" stroke-width="1"/>
<path d="M1368.4 429.8 h12 v32.6 h-12 Z" fill="none" stroke="#444" stroke-width="1"/>
<path d="M1370.2 429.8 V462.4" fill="none" stroke="#555" stroke-width="0.9"/>
<path d="M1368.4 437.7 H1380.4 M1368.4 453 H1380.4" fill="none" stroke="#444" stroke-width="0.9"/>
<path d="M1368.4 432.2 h1.8 M1368.4 434.6 h1.8 M1368.4 440.4 h1.8 M1368.4 443 h1.8 M1368.4 445.600 h1.8 M1368.4 448.2 h1.8 M1368.4 450.6 h1.8 M1368.4 455.4 h1.8 M1368.4 457.8 h1.8 M1368.4 460.2 h1.8" fill="none" stroke="#444" stroke-width="0.7"/>
<path d="M1371.4 432 H1376 L1378 433.600 H1380 M1371.4 435.4 H1375 L1377.4 433.8" fill="none" stroke="#333" stroke-width="0.8"/>
<path d="M1371.6 455.2 L1375.400 458 L1379.6 455.2 M1371.6 461.2 L1375.4 458 L1379.6 461.2" fill="none" stroke="#333" stroke-width="0.8"/>
<path d="M1371.4 454 h2.4 v3 M1371.4 457.4 h1.6" fill="none" stroke="#555" stroke-width="0.7"/>
<path d="M1370.2 442.4 H1373.6 V448.8 H1370.2 M1371.6 444 V447.2 M1376 442.4 H1382.3 M1376 441.2 V443.600 M1376.5 450.6 H1378.2" fill="none" stroke="#333" stroke-width="0.8"/>
<path d="M1378.200 450.6 H1382.3" fill="none" stroke="#555" stroke-width="0.8" stroke-dasharray="1 0.8"/>
<path d="M1366.100 442.4 H1368.4 M1366.1 452.400 H1368.4" fill="none" stroke="#6c6c6c" stroke-width="0.8"/>
<text x="1363" y="440.6" font-family="Liberation Serif" font-size="3.4" text-anchor="start" fill="#000" font-weight="bold" font-style="italic">P</text>
<text x="1363" y="452.8" font-family="Liberation Serif" font-size="3.4" text-anchor="start" fill="#000" font-weight="bold">T</text>
<text x="1384.8" y="443.6" font-family="Liberation Serif" font-size="4" text-anchor="start" fill="#111" font-weight="bold">B</text>
<text x="1384.8" y="452.6" font-family="Liberation Serif" font-size="4" text-anchor="start" fill="#111" font-weight="bold">A</text>
<path d="M1374.800 417.4 V427" fill="none" stroke="#b5b5b5" stroke-width="3"/>
<path d="M1373.3 417.4 V427 M1376.3 417.4 V427" fill="none" stroke="#777" stroke-width="0.7"/>
<path d="M1374.8 429.8 L1373 426.6 L1376.6 426.6 Z" fill="#111"/>
<path d="M1437.6 427.7 H1384 Q1382.7 427.7 1382.7 429 V460.6 Q1382.7 461.9 1384 461.9" fill="none" stroke="#6c6c6c" stroke-width="0.85"/>
<path d="M1437.6 427.7 V407 H1463.3" fill="none" stroke="#6c6c6c" stroke-width="0.85"/>
<path d="M1384 462 H1437.6" fill="none" stroke="#6c6c6c" stroke-width="1.05"/>
<path d="M1437.6 462 V482.3 H1463.3" fill="none" stroke="#6c6c6c" stroke-width="0.85"/>
<text x="1428.8" y="425.8" font-family="Liberation Serif" font-size="3.7" text-anchor="start" fill="#000" font-weight="bold">R</text>
<text x="1429.2" y="468.6" font-family="Liberation Serif" font-size="3.9" text-anchor="start" fill="#000" font-weight="bold">L</text>
<path d="M1395.4 427.7 V462" fill="none" stroke="#6c6c6c" stroke-width="0.85"/>
<circle cx="1395.4" cy="444.6" r="0.9" fill="#222"/>
<path d="M1395.4 433.7 L1397.6 435.9 L1395.4 438.09999999999997 L1393.2 435.9 Z" fill="#fff" stroke="#333" stroke-width="0.9"/>
<path d="M1395.4 451.40000000000003 L1397.6 453.6 L1395.4 455.8 L1393.2 453.6 Z" fill="#fff" stroke="#333" stroke-width="0.9"/>
<path d="M1407.8 433.5 h9.4 v7.5 h-9.4 Z" fill="none" stroke="#555" stroke-width="0.9"/>
<path d="M1412.3 431.6 H1405.2 V437.7 M1407.8 434.7 H1406.6 V439.5 H1407.8" fill="none" stroke="#777" stroke-width="0.9"/>
<path d="M1417.2 440.1 l1 -4.4 l1.1 3.4 l1.1 -4.6 l1 3" fill="none" stroke="#333" stroke-width="0.8"/>
<path d="M1417.800 440.9 L1422.4 432.9" fill="none" stroke="#222" stroke-width="0.8"/>
<path d="M1422.8 432.1 L1420.6 433.7 L1422.3 434.6 Z" fill="#111"/>
<text x="1416" y="432.8" font-family="Liberation Serif" font-size="4.2" text-anchor="start" fill="#111" font-weight="bold" textLength="9.8" lengthAdjust="spacingAndGlyphs">210b</text>
<path d="M1407.8 448.5 h9.4 v7.5 h-9.4 Z" fill="none" stroke="#555" stroke-width="0.9"/>
<path d="M1412.3 457.9 H1405.2 V451.8 M1407.8 454.8 H1406.6 V450.0 H1407.8" fill="none" stroke="#777" stroke-width="0.9"/>
<path d="M1417.2 455.1 l1 -4.4 l1.1 3.4 l1.1 -4.6 l1 3" fill="none" stroke="#333" stroke-width="0.8"/>
<path d="M1417.800 455.9 L1422.4 447.9" fill="none" stroke="#222" stroke-width="0.8"/>
<path d="M1422.8 447.1 L1420.6 448.7 L1422.3 449.6 Z" fill="#111"/>
<text x="1416" y="460.6" font-family="Liberation Serif" font-size="4.2" text-anchor="start" fill="#111" font-weight="bold" textLength="9.8" lengthAdjust="spacingAndGlyphs">210b</text>
<path d="M1412.3 427.7 V433.5 M1412.3 456 V462" fill="none" stroke="#6c6c6c" stroke-width="0.85"/>
<path d="M1412.3 441 h12.4 v7.5 h-12.4 Z" fill="none" stroke="#555" stroke-width="0.9"/>
<path d="M1416 444.600 H1424.7" fill="none" stroke="#bbb" stroke-width="1.6"/>
<circle cx="1444.7" cy="407" r="1.1" fill="#222"/>
<circle cx="1453.3" cy="482.3" r="1.1" fill="#222"/>
<path d="M1444.7 407 V462" fill="none" stroke="#6c6c6c" stroke-width="0.85"/>
<path d="M1444.7 462 H1447.6 M1458.9 462 H1463.3" fill="none" stroke="#6c6c6c" stroke-width="0.85"/>
<path d="M1447.5 462 H1447.7" fill="none" stroke="#6c6c6c" stroke-width="0.85"/>
<path d="M1453.3 482.3 V467.8 A5.8 5.8 0 0 1 1453.3 456.2 V427.3" fill="none" stroke="#6c6c6c" stroke-width="0.85"/>
<path d="M1453.3 427.3 H1463.3" fill="none" stroke="#6c6c6c" stroke-width="0.85"/>
<path d="M1444.7 462 H1463.3" fill="none" stroke="#6c6c6c" stroke-width="0.85"/>
<path d="M1463.3 404.3 h12.3 v26.1 h-12.3 Z" fill="none" stroke="#555" stroke-width="0.9"/>
<path d="M1463.3 411.2 H1475.6 M1463.3 415 H1475.6" fill="none" stroke="#555" stroke-width="0.9"/>
<path d="M1467.3 415 V438.6 A1.7 1.7 0 0 0 1470.7 438.6 V415 M1469 417 V430.4" fill="none" stroke="#666" stroke-width="0.9"/>
<path d="M1463.3 459.2 h12.3 v26.2 h-12.3 Z" fill="none" stroke="#555" stroke-width="0.9"/>
<path d="M1463.3 474.9 H1475.6 M1463.3 478.3 H1475.6" fill="none" stroke="#555" stroke-width="0.9"/>
<path d="M1467.3 474.9 V451.3 A1.7 1.7 0 0 1 1470.7 451.3 V474.9 M1469 459.2 V473" fill="none" stroke="#666" stroke-width="0.9"/>
<circle cx="1463.3" cy="407" r="0.8" fill="#222"/>
<circle cx="1463.3" cy="427.3" r="0.8" fill="#222"/>
<circle cx="1463.3" cy="462" r="0.8" fill="#222"/>
<circle cx="1463.3" cy="482.3" r="0.8" fill="#222"/>
<path d="M1542.5 411.2 h45.3 v53.5 h-45.3 Z" fill="none" stroke="#555" stroke-width="0.9"/>
<path d="M1542.5 419.2 H1587.8" fill="none" stroke="#555" stroke-width="0.9"/>
<path d="M1551.3 417.2 H1579.5" fill="none" stroke="#555" stroke-width="0.9"/>
<rect x="1555" y="421.700" width="25.8" height="3.3" rx="1.6" fill="none" stroke="#555" stroke-width="0.9"/>
<rect x="1555" y="456.700" width="25.8" height="3.1" rx="1.5" fill="none" stroke="#555" stroke-width="0.9"/>
<path d="M1560 419.2 V421.7 M1570 419.2 V421.7 M1560 425 V456.7 M1570 425 V456.7 M1561.6 425 V456.7 M1568.4 425 V456.7" fill="none" stroke="#666" stroke-width="0.8"/>
<path d="M1560 459.8 h10 v2.7 h-10 Z" fill="none" stroke="#555" stroke-width="0.8"/>
<path d="M1564.2 462.5 V488.2 M1566.7 462.5 V488.2" fill="none" stroke="#666" stroke-width="0.9"/>
<path d="M1530.3 473.3 H1559.2 M1562.5 473.3 H1569 M1575 473.3 H1605" fill="none" stroke="#555" stroke-width="0.85"/>
<path d="M1530.3 473.3 V500 M1530.3 505 V522 M1530.3 531 V538" fill="none" stroke="#555" stroke-width="0.85"/>
<path d="M1605 473.3 V498 M1605 504 V522 M1605 531 V538" fill="none" stroke="#555" stroke-width="0.85"/>
<path d="M1530.3 538 H1560 M1565 538 H1574 M1579 538 H1590 M1594 538 H1605" fill="none" stroke="#555" stroke-width="0.85"/>
<path d="M1556.6 495.3 H1537.2 V538 M1571 495.3 H1599.7 V538" fill="none" stroke="#6c6c6c" stroke-width="0.85"/>
<path d="M1537.2 504.7 H1565.8 V502.4 M1571.7 504.7 H1599.7 M1571.7 504.7 V509.2" fill="none" stroke="#6c6c6c" stroke-width="0.85"/>
<path d="M1537.2 510.3 H1551.3 M1587.5 510.3 H1599.7" fill="none" stroke="#6c6c6c" stroke-width="0.85"/>
<circle cx="1537.2" cy="504.7" r="1.0" fill="#222"/>
<circle cx="1537.2" cy="510.3" r="1.0" fill="#222"/>
<circle cx="1599.7" cy="504.7" r="1.0" fill="#222"/>
<circle cx="1599.7" cy="510.3" r="1.0" fill="#222"/>
<circle cx="1563.8" cy="495.3" r="7.2" fill="none" stroke="#333" stroke-width="1"/>
<path d="M1569.7 504.7 L1556.2 484.6" fill="none" stroke="#222" stroke-width="1"/>
<path d="M1554.8 482.6 L1556 487.4 L1558.9 485.4 Z" fill="#111"/>
<path d="M1559.4 495.3 L1556.8 493.8 L1556.8 496.8 Z" fill="#111"/>
<path d="M1568.2 495.3 L1570.8 493.8 L1570.8 496.8 Z" fill="#111"/>
<path d="M1570.5 486.6 h4.5 v-3 h1.8 v5" fill="none" stroke="#6c6c6c" stroke-width="0.8" stroke-dasharray="2.2 1.2"/>
<path d="M1555.8 509.2 h23.4 v8 h-23.4 Z" fill="none" stroke="#333" stroke-width="1"/>
<path d="M1564.2 509.2 V517.2 M1572 509.2 V517.2" fill="none" stroke="#333" stroke-width="0.9"/>
<path d="M1557.5 511 v4.5 M1561.5 511 v4.5 M1566 513.2 h4.5 M1568.2 509.2 v4 M1566.6 517.2 v-2.3 M1569.8 517.2 v-2.3" fill="none" stroke="#222" stroke-width="0.8"/>
<path d="M1573.5 510.6 L1577.6 516 M1577.6 510.6 L1575.5 513.2" fill="none" stroke="#222" stroke-width="0.8"/>
<path d="M1554.2 513.6 L1552 509.6 L1556.4 509.6 Z" fill="#111"/>
<path d="M1583.3 513.6 L1581.1 509.6 L1585.5 509.6 Z" fill="#111"/>
<path d="M1551.3 509.2 h4.5 v4.4 h-4.5 Z" fill="none" stroke="#333" stroke-width="0.8"/>
<path d="M1579.2 509.2 h8.3 v4.4 h-8.3 Z" fill="none" stroke="#333" stroke-width="0.8"/>
<path d="M1552 514.2 l1.1 2.6 l1.1 -2.6 l1.1 2.6 M1580.600 514.2 l1.1 2.6 l1.1 -2.6 l1.1 2.6 l1.1 -2.6" fill="none" stroke="#222" stroke-width="0.8"/>
<path d="M1563.7 522.2 h6.3 v4.2 h-6.3 Z" fill="none" stroke="#222" stroke-width="1"/>
<path d="M1566.8 517.2 V519.2 H1560.8 V524.3 H1563.7" fill="none" stroke="#6c6c6c" stroke-width="0.8" stroke-dasharray="2 1.1"/>
<path d="M1570 525.5 l1 -3 l1 3 l1 -3" fill="none" stroke="#222" stroke-width="0.8"/>
<path d="M1566.8 526.4 V529.2 H1568.3 M1579.200 529.2 V533.3 H1577" fill="none" stroke="#6c6c6c" stroke-width="0.8" stroke-dasharray="2 1.2"/>
<text x="1571.5" y="533" font-family="Liberation Sans" font-size="2.6" text-anchor="start" fill="#222" font-weight="bold">M</text>
<text x="1547.2" y="525.4" font-family="Liberation Sans" font-size="2.4" text-anchor="start" fill="#222" font-weight="bold" stroke="#555" stroke-width="0.1">FLUSHING</text>
<text x="1547.2" y="527.8" font-family="Liberation Sans" font-size="2.4" text-anchor="start" fill="#222" font-weight="bold" stroke="#555" stroke-width="0.1">VALVE</text>
<text x="1547.2" y="530.1999999999999" font-family="Liberation Sans" font-size="2.4" text-anchor="start" fill="#222" font-weight="bold" stroke="#555" stroke-width="0.1">SHIFT</text>
<text x="1547.2" y="532.6" font-family="Liberation Sans" font-size="2.4" text-anchor="start" fill="#222" font-weight="bold" stroke="#555" stroke-width="0.1">16 BAR</text>
<path d="M1525.8 527 H1537.2 M1599.7 529.2 H1608.3" fill="none" stroke="#6c6c6c" stroke-width="0.85"/>
<path d="M1525.8 525.6 v2.8 M1608.3 527.8 v2.8" fill="none" stroke="#6c6c6c" stroke-width="0.8"/>
<text x="1529.5" y="527" font-family="Liberation Sans" font-size="2.8" text-anchor="start" fill="#222" font-weight="bold" transform="rotate(-90 1529.5 527)">M1</text>
<text x="1607" y="529.2" font-family="Liberation Sans" font-size="2.8" text-anchor="start" fill="#222" font-weight="bold" transform="rotate(-90 1607 529.2)">M2</text>
<path d="M1596.7 482.5 H1605" fill="none" stroke="#6c6c6c" stroke-width="0.85" stroke-dasharray="2.5 1.5"/>
<text x="1605.6" y="484.4" font-family="Liberation Sans" font-size="2.8" text-anchor="start" fill="#222" font-weight="bold">L2</text>
<text x="1539" y="542.8" font-family="Liberation Sans" font-size="2.8" text-anchor="start" fill="#222" font-weight="bold" transform="rotate(-90 1539 542.8)">A</text>
<text x="1582" y="543.6" font-family="Liberation Sans" font-size="2.8" text-anchor="start" fill="#222" font-weight="bold" transform="rotate(-90 1582 543.6)">L1</text>
<text x="1594.2" y="542" font-family="Liberation Sans" font-size="2.8" text-anchor="start" fill="#222" font-weight="bold">B</text>
<rect x="1279.4" y="233.3" width="28.7" height="20.2" rx="1" fill="none" stroke="#848484" stroke-width="1.1"/>
<path d="M1279.4 244.5 H1285.8 M1300.2 244.5 H1308.1" fill="none" stroke="#6c6c6c" stroke-width="0.85"/>
<path d="M1292.8 237.9 L1300.2 244.5 L1292.8 251.7 L1285.8 244.5 Z" fill="none" stroke="#555" stroke-width="0.9"/>
<path d="M1292.8 238.5 V251" fill="none" stroke="#aaa" stroke-width="0.8" stroke-dasharray="1.2 1.2"/>
<path d="M1281.3 244.5 V236.3 H1296.4 M1302.6 236.3 H1304.5 V244.5" fill="none" stroke="#555" stroke-width="0.9"/>
<path d="M1296.4 237.2 l1 -1.8 l0.8 1.4 M1298.6 236.3 l1.6 -1.2 l2.2 1.2 l-2.2 1.2 Z" fill="none" stroke="#333" stroke-width="0.7"/>
<circle cx="1279.6" cy="244.5" r="0.8" fill="#222"/>
<circle cx="1281.3" cy="244.5" r="0.7" fill="#222"/>
<circle cx="1304.5" cy="244.5" r="0.7" fill="#222"/>
<path d="M1342.2 201.3 h33.7 v15.3 h-33.7 Z" fill="none" stroke="#666" stroke-width="0.9"/>
<path d="M1332.3 208.6 H1344.700 M1347.9 208.6 H1351.7 M1361.3 208.6 H1368.4 M1371.6 208.6 H1429.4" fill="none" stroke="#777" stroke-width="0.85"/>
<path d="M1332.3 207 v3.2" fill="none" stroke="#6c6c6c" stroke-width="0.8"/>
<circle cx="1356.5" cy="208.6" r="4.8" fill="none" stroke="#333" stroke-width="0.9"/>
<circle cx="1346.3" cy="208.6" r="1.5" fill="none" stroke="#333" stroke-width="0.8"/>
<circle cx="1370" cy="208.6" r="1.5" fill="none" stroke="#333" stroke-width="0.8"/>
<circle cx="1361.3" cy="208.6" r="0.9" fill="#222"/>
<path d="M1414.6 208.6 L1407.6 207.0 L1407.6 210.2 Z" fill="#111"/>
<path d="M1395.2 169.2 h10.5 v15.5 h-10.5 Z" fill="none" stroke="#555" stroke-width="0.9"/>
<path d="M1395.2 174.4 H1405.7 M1395.2 180.2 H1405.7" fill="none" stroke="#555" stroke-width="0.9"/>
<path d="M1396.6 170.6 L1404.3 173 M1404.3 170.6 L1396.6 173" fill="none" stroke="#222" stroke-width="0.8"/>
<path d="M1396.400 177.8 H1404.6" fill="none" stroke="#999" stroke-width="2"/>
<path d="M1396.5 182.6 h7.8" fill="none" stroke="#222" stroke-width="0.9"/>
<path d="M1405.3 174.2 L1402.7 172.6 L1402.7 175.2 Z" fill="#111"/>
<path d="M1405 177.8 L1402.8 176.6 L1402.8 179 Z" fill="#111"/>
<path d="M1396 182.6 L1398.2 181.5 L1398.2 183.7 Z" fill="#111"/>
<path d="M1396 174.2 L1398.4 173 L1398.4 175 Z" fill="#111"/>
<path d="M1402 184.700 V189.5 H1405.7 V184.7 M1402.8 186 h2.2 l-2.2 2.2 h2.2" fill="none" stroke="#444" stroke-width="0.8"/>
<text x="1391.6" y="178.8" font-family="Liberation Sans" font-size="3" text-anchor="start" fill="#222" font-weight="bold">T</text>
<text x="1406.4" y="178.8" font-family="Liberation Sans" font-size="3" text-anchor="start" fill="#222" font-weight="bold">B</text>
<path d="M1405.7 174.4 H1414.6 V199.3 H1429.2" fill="none" stroke="#6c6c6c" stroke-width="0.85"/>
<path d="M1429.2 197.3 h10.6 v15.2 h-10.6 Z" fill="none" stroke="#555" stroke-width="0.9"/>
<path d="M1429.2 205.1 H1439.8" fill="none" stroke="#555" stroke-width="0.9"/>
<path d="M1429.2 199.3 H1439.8" fill="none" stroke="#6c6c6c" stroke-width="0.85"/>
<path d="M1439.6 199.3 L1437.2 198.2 L1437.2 200.4 Z" fill="#111"/>
<path d="M1430.6 202.7 h2.4 M1433 201.4 v2.600 M1430.6 207.6 h2.4 M1433 206.400 v2.6" fill="none" stroke="#222" stroke-width="0.8"/>
<path d="M1430.4 210.6 L1439 207.6" fill="none" stroke="#222" stroke-width="0.8"/>
<path d="M1439.4 207.4 L1437 207.2 L1437.6 209 Z" fill="#111"/>
<path d="M1432.5 212.500 V218.3 M1436.9 212.5 V216.5 M1430.4 220.5 L1438.9 216.1" fill="none" stroke="#444" stroke-width="0.8"/>
<path d="M860.4 720.4 h242 v65.6 h-242 Z" fill="none" stroke="#666" stroke-width="0.9"/>
<path d="M879.4 720.4 V707.4 H889.4 V720.4" fill="none" stroke="#666" stroke-width="0.9"/>
<path d="M953.2 720.4 V707.4 H964.0 V720.4" fill="none" stroke="#666" stroke-width="0.9"/>
<path d="M978 720.4 V707.4 H988.4 V720.4" fill="none" stroke="#666" stroke-width="0.9"/>
<path d="M1029 720.4 V707.4 H1039.4 V720.4" fill="none" stroke="#666" stroke-width="0.9"/>
<path d="M1064.6 720.4 V707.4 H1075.1999999999998 V720.4" fill="none" stroke="#666" stroke-width="0.9"/>
<path d="M884 671 L897 684 L884 697 L871 684 Z" fill="none" stroke="#444" stroke-width="0.9"/>
<path d="M874 684 H894" fill="none" stroke="#222" stroke-width="1"/>
<path d="M871.6 684 L877.4 682.2 L877.4 685.8 Z" fill="#111"/>
<path d="M896.4 684 L890.6 682.2 L890.6 685.8 Z" fill="#111"/>
<path d="M884 671 V697" fill="none" stroke="#555" stroke-width="0.8"/>
<path d="M1224.8 361.9 L1213.6 406.1" stroke="#111" stroke-width="1.1" fill="none"/>
<path d="M1211.5 414.3 L1211.1 405.4 L1216.1 406.7 Z" fill="#111"/>
<circle cx="1227.5" cy="351.2" r="11" fill="#fff" stroke="#1a1a1a" stroke-width="1"/>
<text x="1227.5" y="354.59999999999997" font-family="Liberation Sans" font-size="8.6" text-anchor="middle" fill="#111" font-weight="normal">1</text>
<path d="M1232.1 501.4 L1201.0 513.5" stroke="#111" stroke-width="1.1" fill="none"/>
<path d="M1193.1 516.6 L1200.1 511.1 L1202.0 515.9 Z" fill="#111"/>
<circle cx="1242.4" cy="497.4" r="11" fill="#fff" stroke="#1a1a1a" stroke-width="1"/>
<text x="1242.4" y="500.79999999999995" font-family="Liberation Sans" font-size="8.6" text-anchor="middle" fill="#111" font-weight="normal">2</text>
<path d="M1384.3 362.5 L1397.8 404.9" stroke="#111" stroke-width="1.1" fill="none"/>
<path d="M1400.4 413.0 L1395.3 405.7 L1400.3 404.1 Z" fill="#111"/>
<circle cx="1381" cy="352" r="11" fill="#fff" stroke="#1a1a1a" stroke-width="1"/>
<text x="1381" y="355.4" font-family="Liberation Sans" font-size="8.6" text-anchor="middle" fill="#111" font-weight="normal">3</text>
<path d="M1513.1 436.4 L1482.7 411.8" stroke="#111" stroke-width="1.1" fill="none"/>
<path d="M1476.1 406.4 L1484.3 409.7 L1481.1 413.8 Z" fill="#111"/>
<circle cx="1521.6" cy="443.3" r="11" fill="#fff" stroke="#1a1a1a" stroke-width="1"/>
<text x="1521.6" y="446.7" font-family="Liberation Sans" font-size="8.6" text-anchor="middle" fill="#111" font-weight="normal">4</text>
<path d="M1513.4 450.6 L1482.4 478.4" stroke="#111" stroke-width="1.1" fill="none"/>
<path d="M1476.1 484.1 L1480.7 476.5 L1484.2 480.4 Z" fill="#111"/>
<circle cx="1521.6" cy="443.3" r="11" fill="#fff" stroke="#1a1a1a" stroke-width="1"/>
<text x="1521.6" y="446.7" font-family="Liberation Sans" font-size="8.6" text-anchor="middle" fill="#111" font-weight="normal">4</text>
<path d="M818.4 703.7 L863.0 687.8" stroke="#111" stroke-width="1.1" fill="none"/>
<path d="M871.0 685.0 L863.9 690.3 L862.1 685.4 Z" fill="#111"/>
<circle cx="808" cy="707.4" r="11" fill="#fff" stroke="#1a1a1a" stroke-width="1"/>
<text x="808" y="710.8" font-family="Liberation Sans" font-size="8.6" text-anchor="middle" fill="#111" font-weight="normal">5</text>
<path d="M510.2 412.3 L525.7 390.6" stroke="#111" stroke-width="1.1" fill="none"/>
<path d="M530.7 383.7 L527.9 392.1 L523.6 389.1 Z" fill="#111"/>
<circle cx="503.8" cy="421.2" r="11" fill="#fff" stroke="#1a1a1a" stroke-width="1"/>
<text x="503.8" y="424.59999999999997" font-family="Liberation Sans" font-size="8.6" text-anchor="middle" fill="#111" font-weight="normal">6</text>
<path d="M653.5 333.5 L651.0 376.5" stroke="#111" stroke-width="1.1" fill="none"/>
<path d="M650.5 385.0 L648.4 376.4 L653.6 376.7 Z" fill="#111"/>
<circle cx="654.2" cy="322.5" r="11" fill="#fff" stroke="#1a1a1a" stroke-width="1"/>
<text x="654.2" y="325.9" font-family="Liberation Sans" font-size="8.6" text-anchor="middle" fill="#111" font-weight="normal">7</text>
<path d="M1547.5 574.0 L1551.4 547.1" stroke="#111" stroke-width="1.1" fill="none"/>
<path d="M1552.6 538.7 L1554.0 547.5 L1548.8 546.7 Z" fill="#111"/>
<circle cx="1545.9" cy="584.9" r="11" fill="#fff" stroke="#1a1a1a" stroke-width="1"/>
<text x="1545.9" y="588.3" font-family="Liberation Sans" font-size="8.6" text-anchor="middle" fill="#111" font-weight="normal">8</text>
<path d="M816.8 781.4 L853.2 754.5" stroke="#111" stroke-width="1.1" fill="none"/>
<path d="M860.0 749.4 L854.7 756.6 L851.6 752.4 Z" fill="#111"/>
<circle cx="808" cy="788" r="11" fill="#fff" stroke="#1a1a1a" stroke-width="1"/>
<text x="808" y="791.4" font-family="Liberation Sans" font-size="8.6" text-anchor="middle" fill="#111" font-weight="normal">9</text>
<path d="M1142.5 355.4 L1116.7 367.1" stroke="#111" stroke-width="1.1" fill="none"/>
<path d="M1109.0 370.6 L1115.7 364.7 L1117.8 369.4 Z" fill="#111"/>
<circle cx="1152.5" cy="350.8" r="11" fill="#fff" stroke="#1a1a1a" stroke-width="1"/>
<text x="1152.5" y="354.2" font-family="Liberation Sans" font-size="8.6" text-anchor="middle" fill="#111" font-weight="normal">10</text>
<path d="M777.6 333.6 L776.0 365.5" stroke="#111" stroke-width="1.1" fill="none"/>
<path d="M775.6 374.0 L773.4 365.4 L778.6 365.6 Z" fill="#111"/>
<circle cx="778.2" cy="322.6" r="11" fill="#fff" stroke="#1a1a1a" stroke-width="1"/>
<text x="778.2" y="326.0" font-family="Liberation Sans" font-size="8.6" text-anchor="middle" fill="#111" font-weight="normal">11</text>
<path d="M1381.8 158.2 L1392.0 164.7" stroke="#111" stroke-width="1.1" fill="none"/>
<path d="M1399.2 169.3 L1390.6 166.9 L1393.4 162.5 Z" fill="#111"/>
<circle cx="1372.5" cy="152.3" r="11" fill="#fff" stroke="#1a1a1a" stroke-width="1"/>
<text x="1372.5" y="155.70000000000002" font-family="Liberation Sans" font-size="8.6" text-anchor="middle" fill="#111" font-weight="normal">12</text>
<path d="M1440.7 232.5 L1384.5 216.9" stroke="#111" stroke-width="1.1" fill="none"/>
<path d="M1376.3 214.6 L1385.2 214.4 L1383.8 219.4 Z" fill="#111"/>
<circle cx="1451.3" cy="235.4" r="11" fill="#fff" stroke="#1a1a1a" stroke-width="1"/>
<text x="1451.3" y="238.8" font-family="Liberation Sans" font-size="8.6" text-anchor="middle" fill="#111" font-weight="normal">13</text>
<path d="M1443.3 162.8 L1435.1 188.8" stroke="#111" stroke-width="1.1" fill="none"/>
<path d="M1432.5 196.9 L1432.6 188.0 L1437.5 189.6 Z" fill="#111"/>
<circle cx="1446.6" cy="152.3" r="11" fill="#fff" stroke="#1a1a1a" stroke-width="1"/>
<text x="1446.6" y="155.70000000000002" font-family="Liberation Sans" font-size="8.6" text-anchor="middle" fill="#111" font-weight="normal">14</text>
<path d="M1277.9 193.1 L1287.9 225.3" stroke="#111" stroke-width="1.1" fill="none"/>
<path d="M1290.4 233.4 L1285.4 226.1 L1290.4 224.5 Z" fill="#111"/>
<circle cx="1274.6" cy="182.6" r="11" fill="#fff" stroke="#1a1a1a" stroke-width="1"/>
<text x="1274.6" y="186.0" font-family="Liberation Sans" font-size="8.6" text-anchor="middle" fill="#111" font-weight="normal">15</text>
</svg>
</body></html>
